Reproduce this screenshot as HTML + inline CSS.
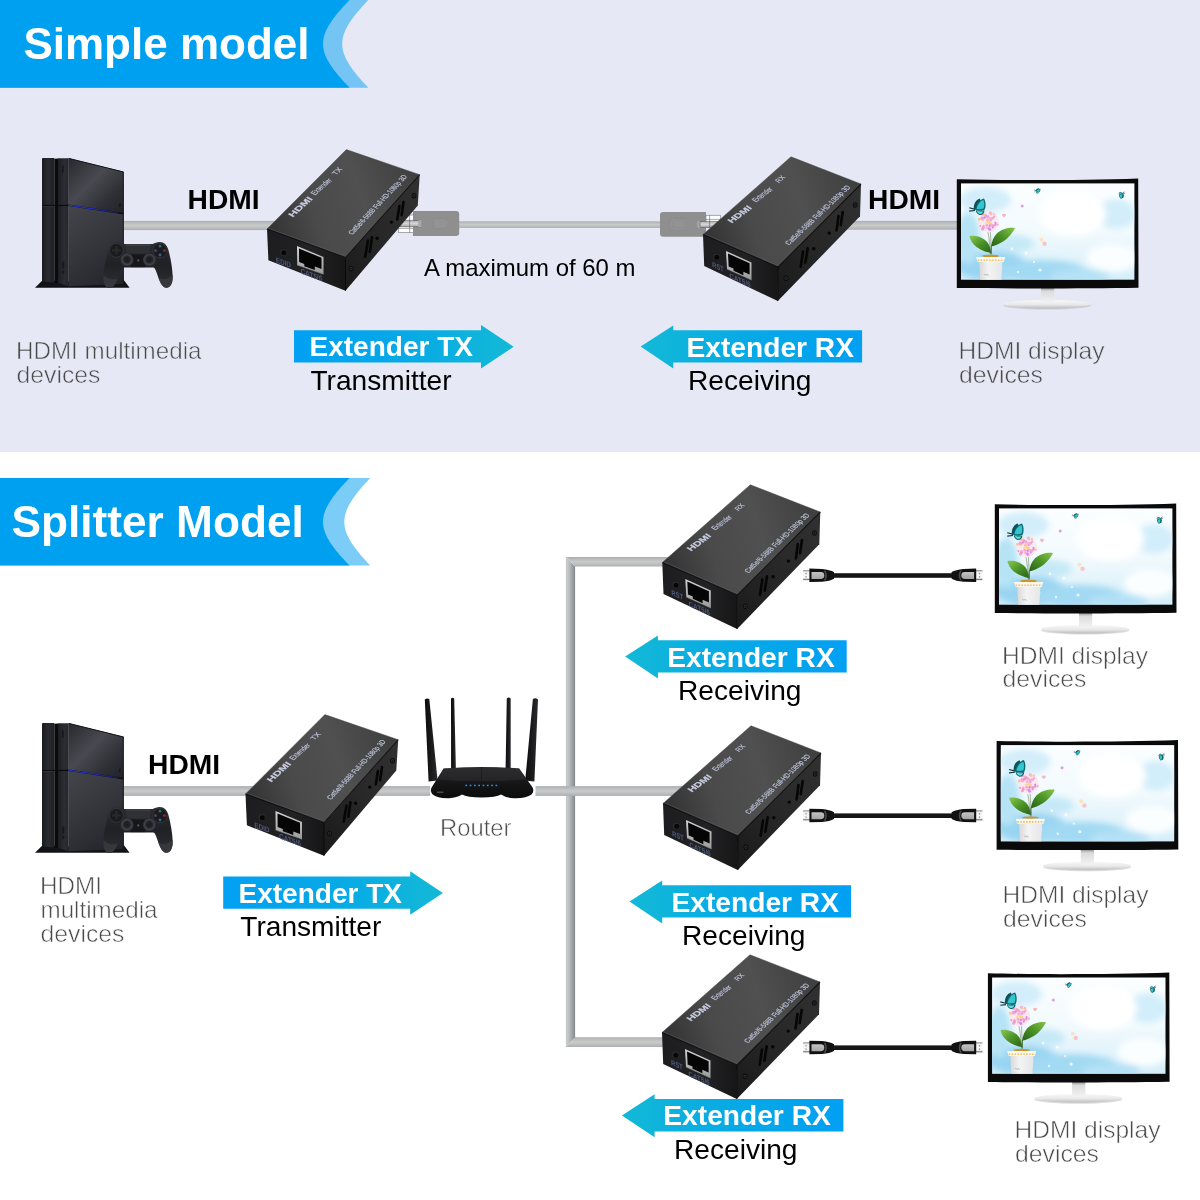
<!DOCTYPE html>
<html lang="en">
<head>
<meta charset="utf-8">
<title>HDMI Extender connection diagram</title>
<style>
html,body{margin:0;padding:0;background:#ffffff;}
body{width:1200px;height:1200px;overflow:hidden;position:relative;}
svg{will-change:transform;position:absolute;left:0;top:0;display:block;font-family:"Liberation Sans",sans-serif;}
svg text{white-space:pre;}
</style>
</head>
<body>
<svg width="1200" height="1200" viewBox="0 0 1200 1200">
<defs>
<linearGradient id="cabH" x1="0" y1="0" x2="0" y2="1">
 <stop offset="0" stop-color="#a9adb2"/><stop offset="0.2" stop-color="#b9bcbd"/>
 <stop offset="0.5" stop-color="#cacbc9"/><stop offset="0.8" stop-color="#b9bcbd"/>
 <stop offset="1" stop-color="#a9adb2"/>
</linearGradient>
<linearGradient id="cabV" x1="0" y1="0" x2="1" y2="0">
 <stop offset="0" stop-color="#c4c5c5"/><stop offset="0.12" stop-color="#cacaca"/>
 <stop offset="0.4" stop-color="#b8babb"/><stop offset="0.7" stop-color="#9ca1a4"/>
 <stop offset="1" stop-color="#84888c"/>
</linearGradient>
<linearGradient id="arrR" x1="0" y1="0" x2="1" y2="0">
 <stop offset="0" stop-color="#02a0f3"/><stop offset="0.5" stop-color="#07a9e6"/><stop offset="1" stop-color="#13b9d6"/>
</linearGradient>
<linearGradient id="arrL" x1="0" y1="0" x2="1" y2="0">
 <stop offset="0" stop-color="#13b9d6"/><stop offset="0.5" stop-color="#07a9e6"/><stop offset="1" stop-color="#02a0f3"/>
</linearGradient>

<linearGradient id="bxTopT" gradientUnits="userSpaceOnUse" x1="267" y1="229" x2="419" y2="175">
 <stop offset="0" stop-color="#323233"/><stop offset="0.3" stop-color="#4a4a4b"/>
 <stop offset="0.62" stop-color="#505051"/><stop offset="1" stop-color="#3e3e3f"/>
</linearGradient>
<linearGradient id="bxTopR" gradientUnits="userSpaceOnUse" x1="703" y1="234" x2="861" y2="184">
 <stop offset="0" stop-color="#323233"/><stop offset="0.3" stop-color="#4a4a4b"/>
 <stop offset="0.62" stop-color="#505051"/><stop offset="1" stop-color="#3e3e3f"/>
</linearGradient>
<linearGradient id="bxFront" x1="0" y1="0" x2="1" y2="0">
 <stop offset="0" stop-color="#1d1d1f"/><stop offset="0.6" stop-color="#222224"/><stop offset="1" stop-color="#161617"/>
</linearGradient>
<linearGradient id="bxSide" x1="0" y1="1" x2="1" y2="0">
 <stop offset="0" stop-color="#1a1a1b"/><stop offset="0.5" stop-color="#282829"/><stop offset="1" stop-color="#313132"/>
</linearGradient>
<linearGradient id="rjFrame" x1="0" y1="0" x2="0" y2="1">
 <stop offset="0" stop-color="#d4d4d4"/><stop offset="1" stop-color="#9a9a9a"/>
</linearGradient>

<linearGradient id="psFront" x1="0" y1="0" x2="1" y2="0">
 <stop offset="0" stop-color="#1a1b1f"/><stop offset="0.5" stop-color="#2a2b30"/><stop offset="1" stop-color="#1e1f23"/>
</linearGradient>
<linearGradient id="psFront2" x1="0" y1="0" x2="1" y2="0">
 <stop offset="0" stop-color="#1d1e22"/><stop offset="0.6" stop-color="#2c2d33"/><stop offset="1" stop-color="#25262b"/>
</linearGradient>
<linearGradient id="psUp" gradientUnits="userSpaceOnUse" x1="70" y1="160" x2="122" y2="212">
 <stop offset="0" stop-color="#2a2b30"/><stop offset="0.42" stop-color="#494a51"/><stop offset="0.75" stop-color="#2f3035"/><stop offset="1" stop-color="#232428"/>
</linearGradient>
<linearGradient id="psLow" gradientUnits="userSpaceOnUse" x1="70" y1="207" x2="120" y2="286">
 <stop offset="0" stop-color="#44454b"/><stop offset="0.35" stop-color="#393a40"/><stop offset="0.75" stop-color="#2c2d32"/><stop offset="1" stop-color="#222327"/>
</linearGradient>
<linearGradient id="psBlue" x1="0" y1="0" x2="1" y2="0">
 <stop offset="0" stop-color="#2838d8"/><stop offset="0.5" stop-color="#2030c8"/><stop offset="1" stop-color="#1a2070" stop-opacity="0.7"/>
</linearGradient>
<linearGradient id="padBody" x1="0" y1="0" x2="0" y2="1">
 <stop offset="0" stop-color="#2b2c30"/><stop offset="0.5" stop-color="#202125"/><stop offset="1" stop-color="#2e2f33"/>
</linearGradient>
<radialGradient id="padStick" cx="0.5" cy="0.45" r="0.55">
 <stop offset="0" stop-color="#1a1a1d"/><stop offset="0.42" stop-color="#232428"/><stop offset="0.68" stop-color="#424348"/><stop offset="0.9" stop-color="#2a2b2f"/><stop offset="1" stop-color="#1a1a1d"/>
</radialGradient>

<linearGradient id="mnSky" x1="0" y1="0" x2="0" y2="1">
 <stop offset="0" stop-color="#fbfeff"/><stop offset="0.5" stop-color="#f2fafd"/><stop offset="1" stop-color="#d4eef9"/>
</linearGradient>
<filter id="mnBlur" x="-10%" y="-10%" width="120%" height="120%"><feGaussianBlur stdDeviation="3.2"/></filter>
<radialGradient id="mnWhite" cx="0.5" cy="0.5" r="0.5">
 <stop offset="0" stop-color="#ffffff"/><stop offset="0.55" stop-color="#ffffff" stop-opacity="0.95"/><stop offset="1" stop-color="#ffffff" stop-opacity="0"/>
</radialGradient>
<radialGradient id="mnBlue" cx="0.5" cy="0.5" r="0.5">
 <stop offset="0" stop-color="#9ed8f2"/><stop offset="0.5" stop-color="#a8dcf4" stop-opacity="0.8"/><stop offset="1" stop-color="#b4e2f6" stop-opacity="0"/>
</radialGradient>
<linearGradient id="mnNeck" x1="0" y1="0" x2="0" y2="1">
 <stop offset="0" stop-color="#8c8c8c"/><stop offset="0.25" stop-color="#dcdcdc"/><stop offset="1" stop-color="#f2f2f2"/>
</linearGradient>
<linearGradient id="mnBase" x1="0" y1="0" x2="0" y2="1">
 <stop offset="0" stop-color="#f8f8f8"/><stop offset="0.55" stop-color="#e8e8e8"/><stop offset="1" stop-color="#bcbcbc"/>
</linearGradient>
<linearGradient id="mnLeafL" x1="0" y1="0" x2="1" y2="1">
 <stop offset="0" stop-color="#8cc850"/><stop offset="0.5" stop-color="#4c9428"/><stop offset="1" stop-color="#2c6418"/>
</linearGradient>
<linearGradient id="mnLeafR" x1="1" y1="0" x2="0" y2="1">
 <stop offset="0" stop-color="#86c44c"/><stop offset="0.5" stop-color="#4a9226"/><stop offset="1" stop-color="#2a6016"/>
</linearGradient>
<linearGradient id="mnPot" x1="0" y1="0" x2="1" y2="0">
 <stop offset="0" stop-color="#d8d8d8"/><stop offset="0.4" stop-color="#f4f4f4"/><stop offset="1" stop-color="#e4e6e8"/>
</linearGradient>
<clipPath id="mnClip"><rect x="961" y="183.4" width="173.4" height="96.3"/></clipPath>

<linearGradient id="rtBody" x1="0" y1="0" x2="0" y2="1">
 <stop offset="0" stop-color="#2a2a2c"/><stop offset="0.45" stop-color="#171718"/><stop offset="1" stop-color="#0c0c0d"/>
</linearGradient>
<linearGradient id="rtAnt" x1="0" y1="0" x2="1" y2="0">
 <stop offset="0" stop-color="#0c0c0d"/><stop offset="0.55" stop-color="#1b1b1d"/><stop offset="1" stop-color="#2c2c2f"/>
</linearGradient>

<linearGradient id="hdTip" x1="0" y1="0" x2="0" y2="1">
 <stop offset="0" stop-color="#7c7c7c"/><stop offset="0.18" stop-color="#f2f2f2"/><stop offset="0.8" stop-color="#fafafa"/><stop offset="1" stop-color="#4c4c4c"/>
</linearGradient>
<linearGradient id="hdIns" x1="0" y1="0" x2="0" y2="1">
 <stop offset="0" stop-color="#c4c4c4"/><stop offset="1" stop-color="#a4a4a4"/>
</linearGradient>
<linearGradient id="rjBand" x1="0" y1="0" x2="0" y2="1">
 <stop offset="0" stop-color="#b0b0b0"/><stop offset="0.5" stop-color="#d6d6d6"/><stop offset="1" stop-color="#a8a8a8"/>
</linearGradient>
</defs>
<rect x="0" y="0" width="1200" height="1200" fill="#ffffff"/>
<rect x="0" y="0" width="1200" height="452" fill="#e6e8f5"/>
<path d="M0,0 L368.3,0 366.56,1.83 364.86,3.65 363.18,5.48 361.54,7.31 359.94,9.14 358.37,10.96 356.85,12.79 355.38,14.62 353.96,16.44 352.6,18.27 351.29,20.1 350.06,21.93 348.89,23.75 347.8,25.58 346.79,27.41 345.86,29.23 345.03,31.06 344.3,32.89 343.67,34.71 343.15,36.54 342.73,38.37 342.44,40.2 342.26,42.02 342.2,43.85 342.26,45.68 342.44,47.5 342.73,49.33 343.15,51.16 343.67,52.99 344.3,54.81 345.03,56.64 345.86,58.47 346.79,60.29 347.8,62.12 348.89,63.95 350.06,65.78 351.29,67.6 352.6,69.43 353.96,71.26 355.38,73.08 356.85,74.91 358.37,76.74 359.94,78.56 361.54,80.39 363.18,82.22 364.86,84.05 366.56,85.87 368.3,87.7 L0,87.7 Z" fill="#74c4f4"/>
<path d="M0,0 L349.6,0 347.83,1.83 346.09,3.65 344.38,5.48 342.71,7.31 341.08,9.14 339.48,10.96 337.93,12.79 336.43,14.62 334.99,16.44 333.6,18.27 332.27,20.1 331.01,21.93 329.82,23.75 328.7,25.58 327.68,27.41 326.73,29.23 325.89,31.06 325.14,32.89 324.5,34.71 323.96,36.54 323.55,38.37 323.24,40.2 323.06,42.02 323,43.85 323.06,45.68 323.24,47.5 323.55,49.33 323.96,51.16 324.5,52.99 325.14,54.81 325.89,56.64 326.73,58.47 327.68,60.29 328.7,62.12 329.82,63.95 331.01,65.78 332.27,67.6 333.6,69.43 334.99,71.26 336.43,73.08 337.93,74.91 339.48,76.74 341.08,78.56 342.71,80.39 344.38,82.22 346.09,84.05 347.83,85.87 349.6,87.7 L0,87.7 Z" fill="#00a0f0"/>
<text x="23.4" y="59.2" font-size="44" font-weight="bold" fill="#ffffff">Simple model</text>
<path d="M0,478 L370.3,478 368.57,479.82 366.87,481.65 365.2,483.48 363.57,485.3 361.97,487.12 360.41,488.95 358.9,490.77 357.43,492.6 356.02,494.43 354.66,496.25 353.36,498.07 352.13,499.9 350.96,501.73 349.88,503.55 348.87,505.38 347.95,507.2 347.12,509.02 346.39,510.85 345.76,512.67 345.24,514.5 344.83,516.33 344.54,518.15 344.36,519.98 344.3,521.8 344.36,523.62 344.54,525.45 344.83,527.27 345.24,529.1 345.76,530.92 346.39,532.75 347.12,534.58 347.95,536.4 348.87,538.23 349.88,540.05 350.96,541.88 352.13,543.7 353.36,545.52 354.66,547.35 356.02,549.18 357.43,551 358.9,552.83 360.41,554.65 361.97,556.48 363.57,558.3 365.2,560.12 366.87,561.95 368.57,563.77 370.3,565.6 L0,565.6 Z" fill="#7cccf8"/>
<path d="M0,478 L349.6,478 347.83,479.82 346.09,481.65 344.38,483.48 342.71,485.3 341.08,487.12 339.48,488.95 337.93,490.77 336.43,492.6 334.99,494.43 333.6,496.25 332.27,498.07 331.01,499.9 329.82,501.73 328.7,503.55 327.68,505.38 326.73,507.2 325.89,509.02 325.14,510.85 324.5,512.67 323.96,514.5 323.55,516.33 323.24,518.15 323.06,519.98 323,521.8 323.06,523.62 323.24,525.45 323.55,527.27 323.96,529.1 324.5,530.92 325.14,532.75 325.89,534.58 326.73,536.4 327.68,538.23 328.7,540.05 329.82,541.88 331.01,543.7 332.27,545.52 333.6,547.35 334.99,549.18 336.43,551 337.93,552.83 339.48,554.65 341.08,556.48 342.71,558.3 344.38,560.12 346.09,561.95 347.83,563.77 349.6,565.6 L0,565.6 Z" fill="#00a0f0"/>
<text x="11.6" y="536.7" font-size="44.2" font-weight="bold" fill="#ffffff">Splitter Model</text>
<polygon points="565.9,557.1 575.1,566.6 575.1,1037.2 565.9,1047" fill="url(#cabV)"/>
<polygon points="565.9,557.1 700,557.1 700,566.6 575.1,566.6" fill="url(#cabH)"/>
<polygon points="575.1,1037.2 700,1037.2 700,1047 565.9,1047" fill="url(#cabH)"/>
<rect x="118" y="220.9" width="182" height="9.2" fill="url(#cabH)"/>
<rect x="455" y="221.3" width="209" height="6.6" fill="url(#cabH)"/>
<rect x="820" y="220.9" width="140" height="8.8" fill="url(#cabH)"/>
<rect x="118" y="786.1" width="162" height="9.8" fill="url(#cabH)"/>
<rect x="370" y="786.1" width="60.2" height="9.8" fill="url(#cabH)"/>
<rect x="535.5" y="786.1" width="164.5" height="9.8" fill="url(#cabH)"/>
<rect x="398.3" y="215" width="15" height="17.7" fill="#ffffff" stroke="#5a5a5a" stroke-width="0.5"/>
<line x1="409.6" y1="215" x2="409.6" y2="232.7" stroke="#4a4a4a" stroke-width="0.5"/>
<line x1="398.3" y1="228.4" x2="413" y2="228.4" stroke="#5a5a5a" stroke-width="0.5"/>
<path d="M413,211 L456,211 Q459.2,211 459.2,214.2 L459.2,232.8 Q459.2,236 456,236 L413,236 Z" fill="#8f8f8f"/>
<rect x="399" y="220.4" width="22.4" height="6.3" rx="0.8" fill="url(#rjBand)" stroke="#555555" stroke-width="0.6"/>
<line x1="409.6" y1="220.4" x2="409.6" y2="226.7" stroke="#444444" stroke-width="0.5"/>
<rect x="418.2" y="220.2" width="3.4" height="6.8" fill="#a9a9a9"/>
<path d="M433.6,218.6 L443,218.6 Q448.4,218.6 448.4,223.6 Q448.4,228.6 443,228.6 L433.6,228.6 Z" fill="#939393" stroke="#8a8a8a" stroke-width="0.7"/>
<rect x="706" y="215.2" width="14.7" height="12.2" fill="#ffffff" stroke="#5a5a5a" stroke-width="0.5"/>
<line x1="709.6" y1="215.2" x2="709.6" y2="227.4" stroke="#4a4a4a" stroke-width="0.5"/>
<line x1="706" y1="219.4" x2="720.7" y2="219.4" stroke="#5a5a5a" stroke-width="0.5"/>
<path d="M706,212 L663.2,212 Q660,212 660,215.2 L660,233.5 Q660,236.7 663.2,236.7 L706,236.7 Z" fill="#8f8f8f"/>
<rect x="697.3" y="221.3" width="3.6" height="6.4" rx="1" fill="#a9a9a9"/>
<rect x="700" y="221.4" width="18" height="6" rx="0.8" fill="url(#rjBand)" stroke="#555555" stroke-width="0.6"/>
<line x1="709.6" y1="221.4" x2="709.6" y2="227.4" stroke="#444444" stroke-width="0.5"/>
<path d="M686,218.4 L675,218.4 Q669.4,218.4 669.4,224.3 Q669.4,230.2 675,230.2 L686,230.2 Z" fill="#939393" stroke="#8a8a8a" stroke-width="0.7"/>
<path d="M683.6,220.8 L676,220.8 Q672,220.8 672,224.3 Q672,227.8 676,227.8 L683.6,227.8 Z" fill="none" stroke="#8a8a8a" stroke-width="0.6"/>
<g><polygon points="35,287.8 42.6,280.2 69,281.5 123.4,279.6 129.6,287.8" fill="#121316"/>
<polygon points="42,158.8 42.6,158.1 54.3,158.1 54.3,282.6 42,281.6" fill="url(#psFront)"/>
<polygon points="54.3,158.8 58,158.6 58,283 54.3,282.6" fill="#0a0a0c"/>
<polygon points="58,158.2 68.8,158.2 68.8,286.3 58,283" fill="url(#psFront2)"/>
<polygon points="68.8,158.2 123.6,171.8 123.6,213.6 68.8,205.3" fill="url(#psUp)"/>
<polygon points="68.8,205.3 123.6,213.6 123.6,284 68.8,286.3" fill="url(#psLow)"/>
<line x1="42" y1="205.6" x2="68.8" y2="205.3" stroke="#0c0c0e" stroke-width="1.2"/>
<line x1="42" y1="206.6" x2="54.6" y2="206.5" stroke="#4a4b52" stroke-width="0.6" opacity="0.7"/>
<line x1="68.8" y1="205.3" x2="123.6" y2="213.6" stroke="#111118" stroke-width="1.6"/>
<line x1="68.8" y1="205.2" x2="118" y2="212.6" stroke="url(#psBlue)" stroke-width="1.1"/>
<line x1="68.8" y1="158.4" x2="123.6" y2="172" stroke="#15161a" stroke-width="1"/>
<line x1="123.3" y1="172" x2="123.3" y2="284" stroke="#16171a" stroke-width="1"/>
<rect x="62" y="165.5" width="1.6" height="7" fill="#111216" opacity="0.8"/>
<path d="M62,262 l2.4,-1 v7 l-2.4,1 z M62,271 l2.4,-1 v3.5 l-2.4,1 z" fill="#15161a" opacity="0.8"/>
<path d="M118,207.5 l2.6,-1.6 v-3 l-1.2,0.5 v2 z" fill="#101114" opacity="0.9"/>
<path d="M108.6,249.5 C109.5,245 112.5,242.3 116.5,242.2 C119.5,242.1 121.8,243 123.5,244 L152.8,244 C154.6,243 157,242 159.8,242 C164,242 167,245 168.3,249.6 C170.6,258 172.4,268 172.7,276.5 C172.9,282.5 171,287.4 166.8,287.8 C163.4,288 161.4,285 159.6,280.8 C158,277 156.6,271.5 154.8,268.4 C153.8,267.6 152.6,267.6 151,267.6 L125.4,267.6 C123.6,267.6 122.6,267.8 121.6,269 C119.6,272 118.2,277.4 116.4,281.4 C114.6,285.4 112.4,288 108.8,287.8 C104.6,287.5 102.9,282.5 103.2,276.5 C103.6,268 106,258 108.6,249.5 Z" fill="url(#padBody)"/>
<path d="M103.4,275 C103,282.5 104.8,287.4 108.8,287.7 C112.4,287.9 114.6,285.4 116.4,281.4 L117.6,278.4 C113,280.5 108,279.5 103.4,275 Z" fill="#3a3b3f" opacity="0.8"/>
<path d="M172.6,275 C173,282.5 171,287.4 166.9,287.7 C163.4,287.9 161.4,285 159.6,280.8 L158.4,277.8 C163,280.2 168,279.3 172.6,275 Z" fill="#3a3b3f" opacity="0.8"/>
<path d="M125.6,244.2 L150.6,244.2 L149.8,253.6 L126.4,253.6 Z" fill="#2f3034"/>
<path d="M125.6,244.2 L150.6,244.2 L150.4,246 L125.8,246 Z" fill="#404146" opacity="0.8"/>
<rect x="131" y="254.5" width="14" height="12.6" fill="#17171a"/>
<circle cx="116.4" cy="250.4" r="6.9" fill="#1b1b1e"/>
<circle cx="116.4" cy="250.4" r="6.9" fill="none" stroke="#3b3c40" stroke-width="0.7"/>
<path d="M115.3,246 h2.2 v3.2 h3.2 v2.2 h-3.2 v3.2 h-2.2 v-3.2 h-3.2 v-2.2 h3.2 z" fill="#28292d"/>
<circle cx="160" cy="250.6" r="7.2" fill="#1b1b1e"/>
<circle cx="160" cy="250.6" r="7.2" fill="none" stroke="#3b3c40" stroke-width="0.7"/>
<circle cx="160" cy="246.2" r="1.4" fill="#2a6e6c"/>
<circle cx="164.5" cy="250.6" r="1.4" fill="#7a3040"/>
<circle cx="155.5" cy="250.6" r="1.4" fill="#5e4068"/>
<circle cx="160" cy="255" r="1.4" fill="#34609a"/>
<circle cx="127" cy="260.2" r="6.6" fill="url(#padStick)"/>
<circle cx="149.4" cy="260.2" r="6.6" fill="url(#padStick)"/>
<circle cx="138.3" cy="260.4" r="1.1" fill="#5a5b60"/></g>
<g transform="translate(0 565)"><polygon points="35,287.8 42.6,280.2 69,281.5 123.4,279.6 129.6,287.8" fill="#121316"/>
<polygon points="42,158.8 42.6,158.1 54.3,158.1 54.3,282.6 42,281.6" fill="url(#psFront)"/>
<polygon points="54.3,158.8 58,158.6 58,283 54.3,282.6" fill="#0a0a0c"/>
<polygon points="58,158.2 68.8,158.2 68.8,286.3 58,283" fill="url(#psFront2)"/>
<polygon points="68.8,158.2 123.6,171.8 123.6,213.6 68.8,205.3" fill="url(#psUp)"/>
<polygon points="68.8,205.3 123.6,213.6 123.6,284 68.8,286.3" fill="url(#psLow)"/>
<line x1="42" y1="205.6" x2="68.8" y2="205.3" stroke="#0c0c0e" stroke-width="1.2"/>
<line x1="42" y1="206.6" x2="54.6" y2="206.5" stroke="#4a4b52" stroke-width="0.6" opacity="0.7"/>
<line x1="68.8" y1="205.3" x2="123.6" y2="213.6" stroke="#111118" stroke-width="1.6"/>
<line x1="68.8" y1="205.2" x2="118" y2="212.6" stroke="url(#psBlue)" stroke-width="1.1"/>
<line x1="68.8" y1="158.4" x2="123.6" y2="172" stroke="#15161a" stroke-width="1"/>
<line x1="123.3" y1="172" x2="123.3" y2="284" stroke="#16171a" stroke-width="1"/>
<rect x="62" y="165.5" width="1.6" height="7" fill="#111216" opacity="0.8"/>
<path d="M62,262 l2.4,-1 v7 l-2.4,1 z M62,271 l2.4,-1 v3.5 l-2.4,1 z" fill="#15161a" opacity="0.8"/>
<path d="M118,207.5 l2.6,-1.6 v-3 l-1.2,0.5 v2 z" fill="#101114" opacity="0.9"/>
<path d="M108.6,249.5 C109.5,245 112.5,242.3 116.5,242.2 C119.5,242.1 121.8,243 123.5,244 L152.8,244 C154.6,243 157,242 159.8,242 C164,242 167,245 168.3,249.6 C170.6,258 172.4,268 172.7,276.5 C172.9,282.5 171,287.4 166.8,287.8 C163.4,288 161.4,285 159.6,280.8 C158,277 156.6,271.5 154.8,268.4 C153.8,267.6 152.6,267.6 151,267.6 L125.4,267.6 C123.6,267.6 122.6,267.8 121.6,269 C119.6,272 118.2,277.4 116.4,281.4 C114.6,285.4 112.4,288 108.8,287.8 C104.6,287.5 102.9,282.5 103.2,276.5 C103.6,268 106,258 108.6,249.5 Z" fill="url(#padBody)"/>
<path d="M103.4,275 C103,282.5 104.8,287.4 108.8,287.7 C112.4,287.9 114.6,285.4 116.4,281.4 L117.6,278.4 C113,280.5 108,279.5 103.4,275 Z" fill="#3a3b3f" opacity="0.8"/>
<path d="M172.6,275 C173,282.5 171,287.4 166.9,287.7 C163.4,287.9 161.4,285 159.6,280.8 L158.4,277.8 C163,280.2 168,279.3 172.6,275 Z" fill="#3a3b3f" opacity="0.8"/>
<path d="M125.6,244.2 L150.6,244.2 L149.8,253.6 L126.4,253.6 Z" fill="#2f3034"/>
<path d="M125.6,244.2 L150.6,244.2 L150.4,246 L125.8,246 Z" fill="#404146" opacity="0.8"/>
<rect x="131" y="254.5" width="14" height="12.6" fill="#17171a"/>
<circle cx="116.4" cy="250.4" r="6.9" fill="#1b1b1e"/>
<circle cx="116.4" cy="250.4" r="6.9" fill="none" stroke="#3b3c40" stroke-width="0.7"/>
<path d="M115.3,246 h2.2 v3.2 h3.2 v2.2 h-3.2 v3.2 h-2.2 v-3.2 h-3.2 v-2.2 h3.2 z" fill="#28292d"/>
<circle cx="160" cy="250.6" r="7.2" fill="#1b1b1e"/>
<circle cx="160" cy="250.6" r="7.2" fill="none" stroke="#3b3c40" stroke-width="0.7"/>
<circle cx="160" cy="246.2" r="1.4" fill="#2a6e6c"/>
<circle cx="164.5" cy="250.6" r="1.4" fill="#7a3040"/>
<circle cx="155.5" cy="250.6" r="1.4" fill="#5e4068"/>
<circle cx="160" cy="255" r="1.4" fill="#34609a"/>
<circle cx="127" cy="260.2" r="6.6" fill="url(#padStick)"/>
<circle cx="149.4" cy="260.2" r="6.6" fill="url(#padStick)"/>
<circle cx="138.3" cy="260.4" r="1.1" fill="#5a5b60"/></g>
<path d="M424.8,699.4 Q426.8,697.6 429.3,699 L437.6,780.5 L428.6,781.5 Z" fill="url(#rtAnt)"/>
<path d="M451,698.6 Q452.6,697 454.2,698.6 L455.9,769 L451.1,769 Z" fill="url(#rtAnt)"/>
<path d="M506.8,698.4 Q508.8,696.8 510.7,698.4 L510.7,769 L505.6,769 Z" fill="url(#rtAnt)"/>
<path d="M532.9,699 Q535.6,697.4 538,699.4 L534.4,781.5 L525.2,780.5 Z" fill="url(#rtAnt)"/>
<path d="M443.6,768.6 Q481.5,765.6 519.2,768.6 L532.6,787.6 Q534.4,791 531.8,794.2 Q526,798.6 514,798.2 Q506,798 501,794.6 Q496,797.6 481.6,797.6 Q467,797.6 462,794.6 Q457,798 449,798.2 Q437.6,798.6 432.4,794.2 Q429.8,791 431.6,787.6 Z" fill="url(#rtBody)"/>
<path d="M443.6,768.6 Q481.5,765.6 519.2,768.6 L526.6,779.2 Q481.5,783.4 437.4,779.4 Z" fill="#303033" opacity="0.55"/>
<path d="M481.6,766.9 L481.6,781.4" stroke="#0e0e0f" stroke-width="0.6" opacity="0.7"/>
<rect x="465.4" y="784.7" width="1.7" height="1.5" fill="#2f8df2"/>
<rect x="469.7" y="784.7" width="1.7" height="1.5" fill="#2f8df2"/>
<rect x="474" y="784.7" width="1.7" height="1.5" fill="#2f8df2"/>
<rect x="478.3" y="784.7" width="1.7" height="1.5" fill="#2f8df2"/>
<rect x="482.6" y="784.7" width="1.7" height="1.5" fill="#2f8df2"/>
<rect x="486.9" y="784.7" width="1.7" height="1.5" fill="#2f8df2"/>
<rect x="491.2" y="784.7" width="1.7" height="1.5" fill="#2f8df2"/>
<rect x="495.5" y="784.7" width="1.7" height="1.5" fill="#2f8df2"/>
<rect x="436.8" y="791.6" width="6.6" height="1.2" fill="#6a6a6e" opacity="0.8"/>
<polygon points="294,330.2 481,330.2 481,325 513.7,346.7 481,368.6 481,362.6 294,362.6" fill="url(#arrR)"/>
<text x="309.5" y="356.4" font-size="27.6" font-weight="bold" fill="#ffffff" textLength="163.5" lengthAdjust="spacingAndGlyphs">Extender TX</text>
<text x="310.5" y="390" font-size="27.2" fill="#000000" textLength="141" lengthAdjust="spacingAndGlyphs">Transmitter</text>
<polygon points="223.2,876.4 410.2,876.4 410.2,871.2 442.9,892.9 410.2,914.8 410.2,908.8 223.2,908.8" fill="url(#arrR)"/>
<text x="238.5" y="902.6" font-size="27.6" font-weight="bold" fill="#ffffff" textLength="163.5" lengthAdjust="spacingAndGlyphs">Extender TX</text>
<text x="240.3" y="936.2" font-size="27.2" fill="#000000" textLength="141" lengthAdjust="spacingAndGlyphs">Transmitter</text>
<polygon points="640.6,346.6 673.3,325.4 673.3,330.2 862.1,330.2 862.1,362.6 673.3,362.6 673.3,368.4" fill="url(#arrL)"/>
<text x="686.5" y="356.5" font-size="27.6" font-weight="bold" fill="#ffffff" textLength="167.5" lengthAdjust="spacingAndGlyphs">Extender RX</text>
<text x="688" y="389.7" font-size="27.2" fill="#000000" textLength="123.5" lengthAdjust="spacingAndGlyphs">Receiving</text>
<polygon points="625.2,656.6 657.9,635.4 657.9,640.2 846.7,640.2 846.7,672.6 657.9,672.6 657.9,678.4" fill="url(#arrL)"/>
<text x="667.2" y="666.5" font-size="27.6" font-weight="bold" fill="#ffffff" textLength="167.5" lengthAdjust="spacingAndGlyphs">Extender RX</text>
<text x="678" y="699.7" font-size="27.2" fill="#000000" textLength="123.5" lengthAdjust="spacingAndGlyphs">Receiving</text>
<polygon points="629.5,901.6 662.2,880.4 662.2,885.2 851,885.2 851,917.6 662.2,917.6 662.2,923.4" fill="url(#arrL)"/>
<text x="671.5" y="911.5" font-size="27.6" font-weight="bold" fill="#ffffff" textLength="167.5" lengthAdjust="spacingAndGlyphs">Extender RX</text>
<text x="682" y="945.2" font-size="27.2" fill="#000000" textLength="123.5" lengthAdjust="spacingAndGlyphs">Receiving</text>
<polygon points="621.9,1115.5 654.6,1094.3 654.6,1099.1 843.4,1099.1 843.4,1131.5 654.6,1131.5 654.6,1137.3" fill="url(#arrL)"/>
<text x="663.3" y="1125.4" font-size="27.6" font-weight="bold" fill="#ffffff" textLength="167.5" lengthAdjust="spacingAndGlyphs">Extender RX</text>
<text x="674" y="1159.1" font-size="27.2" fill="#000000" textLength="123.5" lengthAdjust="spacingAndGlyphs">Receiving</text>
<g><ellipse cx="1047.2" cy="305.4" rx="44" ry="4.2" fill="#9a9ca4" opacity="0.35"/>
<ellipse cx="1047.2" cy="304.2" rx="44.2" ry="4.3" fill="url(#mnBase)"/>
<rect x="1041" y="287.5" width="13.2" height="15" fill="url(#mnNeck)"/>
<path d="M956.8,179.2 C1010,180.6 1085,180.2 1138.2,178.4 L1138.5,287.7 C1085,288.6 1010,288.6 956.8,288 Z" fill="#0a0a0b"/>
<rect x="961" y="183.4" width="173.4" height="96.3" fill="url(#mnSky)"/>
<g clip-path="url(#mnClip)">
<g filter="url(#mnBlur)">
<ellipse cx="992" cy="266" rx="36" ry="15" fill="#98d4f1"/>
<ellipse cx="1040" cy="271" rx="46" ry="11" fill="#a2d9f3"/>
<ellipse cx="1080" cy="276" rx="30" ry="7" fill="#b4e1f6"/>
<ellipse cx="968" cy="238" rx="12" ry="26" fill="#b6e3f6"/>
<ellipse cx="985" cy="200" rx="26" ry="13" fill="#d3eefa"/>
<ellipse cx="1012" cy="244" rx="22" ry="9" fill="#c6e9f8"/>
<ellipse cx="1116" cy="214" rx="20" ry="15" fill="#d2eefa"/>
<ellipse cx="1072" cy="214" rx="34" ry="22" fill="#ffffff"/>
<ellipse cx="1112" cy="258" rx="26" ry="14" fill="#fbfeff"/>
</g>
<circle cx="997" cy="259" r="1.6" fill="#ffffff" opacity="0.8"/>
<circle cx="1012" cy="249" r="1.4" fill="#ffffff" opacity="0.8"/>
<circle cx="1026" cy="253" r="1.5" fill="#ffffff" opacity="0.8"/>
<circle cx="1001" cy="268" r="1.3" fill="#ffffff" opacity="0.8"/>
<circle cx="1040" cy="270" r="1.6" fill="#ffffff" opacity="0.8"/>
<circle cx="1018" cy="272" r="1.2" fill="#ffffff" opacity="0.8"/>
<circle cx="985" cy="245" r="1.2" fill="#ffffff" opacity="0.8"/>
<circle cx="1034" cy="262" r="1.1" fill="#ffffff" opacity="0.8"/>
<path d="M979.2,261.6 L1002.4,261.6 L1001.4,280 L980.2,280 Z" fill="url(#mnPot)"/>
<path d="M984,274 l2,1.2 l1.4,-1 l1.2,1.6" stroke="#9a9a9a" stroke-width="0.6" fill="none"/>
<ellipse cx="990.6" cy="256" rx="8.6" ry="1.3" fill="#c8962c"/>
<path d="M976,257 L1005.2,257 L1003.8,262 L977.6,262 Z" fill="#fbf6ee"/>
<path d="M977.6,260.2 L1004,260.2" stroke="#f4c060" stroke-width="1.6" stroke-dasharray="1.6 1.3"/>
<path d="M990.4,255 C990,248 989.4,240 988,232 M991.2,255 C991.2,246 990.6,238 990.4,232" stroke="#8a9a78" stroke-width="0.7" fill="none"/>
<path d="M969.4,236.2 C975,234.6 984,237.4 988,243 C990,246.4 990.8,250 990.6,253 C984,251.8 977,248.6 973,243.6 C971,241 970,238.6 969.4,236.2 Z" fill="url(#mnLeafL)"/>
<path d="M1015,228 C1010,227.2 1001,229 996.4,234 C993.4,237.4 991.6,242 991,246.6 C997,245.4 1004,242 1009,236.6 C1011.6,233.8 1013.6,231 1015,228 Z" fill="url(#mnLeafR)"/>
<path d="M990.4,253.4 L990.8,246 L991.6,246.2 L991.6,254 Z" fill="#2e5e1a"/>
<circle cx="988.6" cy="222" r="10.4" fill="#fbe4ee" opacity="0.75"/>
<circle cx="986.83" cy="225.37" r="1.39" fill="#f6a4cc"/>
<circle cx="995.31" cy="225.12" r="1.22" fill="#f7b6d6"/>
<circle cx="995.39" cy="224.46" r="1.02" fill="#d98ae6"/>
<circle cx="986.14" cy="223.04" r="1.05" fill="#f9d486"/>
<circle cx="980.35" cy="226.02" r="1.07" fill="#f49ac2"/>
<circle cx="989.95" cy="229.57" r="1.57" fill="#e4a0ee"/>
<circle cx="982.92" cy="219.16" r="1.59" fill="#fbc4a0"/>
<circle cx="997.65" cy="224.59" r="1.17" fill="#f8b0d0"/>
<circle cx="990.76" cy="224.62" r="1.19" fill="#f6a4cc"/>
<circle cx="990.35" cy="218.23" r="1.35" fill="#f7b6d6"/>
<circle cx="984.6" cy="217.47" r="1.33" fill="#d98ae6"/>
<circle cx="990.9" cy="222.91" r="1.12" fill="#f9d486"/>
<circle cx="985.78" cy="216.26" r="1.19" fill="#f49ac2"/>
<circle cx="982.7" cy="218.66" r="1.18" fill="#e4a0ee"/>
<circle cx="990.95" cy="214.21" r="1.15" fill="#fbc4a0"/>
<circle cx="982" cy="218.83" r="1.53" fill="#f8b0d0"/>
<circle cx="987.9" cy="216.84" r="1.59" fill="#f6a4cc"/>
<circle cx="993.46" cy="226.23" r="1.45" fill="#f7b6d6"/>
<circle cx="992.72" cy="227.53" r="1.02" fill="#d98ae6"/>
<circle cx="984.22" cy="214.62" r="1.34" fill="#f9d486"/>
<circle cx="992.65" cy="218.17" r="1.42" fill="#f49ac2"/>
<circle cx="982.16" cy="217.88" r="1.27" fill="#e4a0ee"/>
<circle cx="993.91" cy="214.05" r="1.28" fill="#fbc4a0"/>
<circle cx="987.31" cy="219.95" r="1.42" fill="#f8b0d0"/>
<circle cx="982.48" cy="214.29" r="1.49" fill="#f6a4cc"/>
<circle cx="987.23" cy="227.88" r="1.4" fill="#f7b6d6"/>
<circle cx="995.46" cy="222.93" r="1.1" fill="#d98ae6"/>
<circle cx="990.44" cy="223.58" r="1.46" fill="#f9d486"/>
<circle cx="992.09" cy="225.5" r="1.23" fill="#f49ac2"/>
<circle cx="990.6" cy="220.01" r="1.27" fill="#e4a0ee"/>
<circle cx="979.47" cy="219.22" r="1.49" fill="#fbc4a0"/>
<circle cx="992.13" cy="218.14" r="1.25" fill="#f8b0d0"/>
<circle cx="982.54" cy="229.07" r="1.57" fill="#f6a4cc"/>
<circle cx="991.1" cy="225.3" r="1.14" fill="#f7b6d6"/>
<circle cx="989.34" cy="228.71" r="1.35" fill="#d98ae6"/>
<circle cx="988.55" cy="222.62" r="1.25" fill="#f9d486"/>
<circle cx="983.37" cy="227.34" r="1.57" fill="#f49ac2"/>
<circle cx="985.93" cy="215.52" r="1.37" fill="#e4a0ee"/>
<circle cx="987.54" cy="219.99" r="1.54" fill="#fbc4a0"/>
<circle cx="990.39" cy="213.1" r="1.48" fill="#f8b0d0"/>
<circle cx="983.57" cy="225.83" r="1.06" fill="#f6a4cc"/>
<circle cx="986.91" cy="220.19" r="1.04" fill="#f7b6d6"/>
<circle cx="989.65" cy="225.77" r="1.2" fill="#d98ae6"/>
<circle cx="988.75" cy="222.05" r="1.09" fill="#f9d486"/>
<circle cx="993.54" cy="225.48" r="1.02" fill="#f49ac2"/>
<circle cx="994.23" cy="216.61" r="1.09" fill="#e4a0ee"/>
<g transform="translate(977.6 206.4) rotate(4) scale(0.98)"><path d="M-8.4,2 L-2,3.2 M-8.2,5.4 L-2.4,4.4" stroke="#123a3e" stroke-width="1.2" fill="none"/><path d="M-3.6,3.4 C-4.6,-1.6 -2.4,-6.6 1.6,-8.2 C3.4,-6 3.6,-1 2.4,3 Z" fill="#0c5258"/><path d="M-2.2,3.6 C-2.2,-1.8 1.6,-7.2 6,-8.6 C8.2,-5.4 8.6,-0.6 7.4,3 C5.4,4.6 0.6,4.6 -2.2,3.6 Z" fill="#106a70"/><path d="M-0.8,2.6 C-0.6,-1.4 2,-5.6 5.4,-7 C6.8,-4.6 7,-0.8 6.2,1.8 C4,2.8 1.4,3 -0.8,2.6 Z" fill="#34c6d0"/><path d="M-1.6,4 C1.4,4.6 5,4.4 7.2,3.6 C7.6,6.2 5.6,8.4 2.6,8.6 C0.4,8 -1.2,6.2 -1.6,4 Z" fill="#0f6268"/><path d="M-0.4,4.8 C2,5.2 4.4,5 6,4.6 C6,6.2 4.6,7.4 2.8,7.6 C1.2,7.2 0,6.2 -0.4,4.8 Z" fill="#5adde6"/></g>
<g transform="translate(1037.2 190.4) rotate(30) scale(0.34)"><path d="M-8.4,2 L-2,3.2 M-8.2,5.4 L-2.4,4.4" stroke="#123a3e" stroke-width="1.2" fill="none"/><path d="M-3.6,3.4 C-4.6,-1.6 -2.4,-6.6 1.6,-8.2 C3.4,-6 3.6,-1 2.4,3 Z" fill="#0c5258"/><path d="M-2.2,3.6 C-2.2,-1.8 1.6,-7.2 6,-8.6 C8.2,-5.4 8.6,-0.6 7.4,3 C5.4,4.6 0.6,4.6 -2.2,3.6 Z" fill="#106a70"/><path d="M-0.8,2.6 C-0.6,-1.4 2,-5.6 5.4,-7 C6.8,-4.6 7,-0.8 6.2,1.8 C4,2.8 1.4,3 -0.8,2.6 Z" fill="#34c6d0"/><path d="M-1.6,4 C1.4,4.6 5,4.4 7.2,3.6 C7.6,6.2 5.6,8.4 2.6,8.6 C0.4,8 -1.2,6.2 -1.6,4 Z" fill="#0f6268"/><path d="M-0.4,4.8 C2,5.2 4.4,5 6,4.6 C6,6.2 4.6,7.4 2.8,7.6 C1.2,7.2 0,6.2 -0.4,4.8 Z" fill="#5adde6"/></g>
<g transform="translate(1122.2 195) rotate(160) scale(0.4)"><path d="M-8.4,2 L-2,3.2 M-8.2,5.4 L-2.4,4.4" stroke="#123a3e" stroke-width="1.2" fill="none"/><path d="M-3.6,3.4 C-4.6,-1.6 -2.4,-6.6 1.6,-8.2 C3.4,-6 3.6,-1 2.4,3 Z" fill="#0c5258"/><path d="M-2.2,3.6 C-2.2,-1.8 1.6,-7.2 6,-8.6 C8.2,-5.4 8.6,-0.6 7.4,3 C5.4,4.6 0.6,4.6 -2.2,3.6 Z" fill="#106a70"/><path d="M-0.8,2.6 C-0.6,-1.4 2,-5.6 5.4,-7 C6.8,-4.6 7,-0.8 6.2,1.8 C4,2.8 1.4,3 -0.8,2.6 Z" fill="#34c6d0"/><path d="M-1.6,4 C1.4,4.6 5,4.4 7.2,3.6 C7.6,6.2 5.6,8.4 2.6,8.6 C0.4,8 -1.2,6.2 -1.6,4 Z" fill="#0f6268"/><path d="M-0.4,4.8 C2,5.2 4.4,5 6,4.6 C6,6.2 4.6,7.4 2.8,7.6 C1.2,7.2 0,6.2 -0.4,4.8 Z" fill="#5adde6"/></g>
<circle cx="1022.2" cy="206" r="1.5" fill="#dc9cec"/>
<path d="M1004,217.4 l-1.9,-1.9 a1.2,1.2 0 0 1 1.9,-1.4 a1.2,1.2 0 0 1 1.9,1.4 z" fill="#f7b4c4"/>
<circle cx="1041.4" cy="239.6" r="2" fill="#fbe2c0"/>
<circle cx="1044.6" cy="243.8" r="2.2" fill="#f9c4c4"/>
</g></g>
<g transform="translate(38 325)"><ellipse cx="1047.2" cy="305.4" rx="44" ry="4.2" fill="#9a9ca4" opacity="0.35"/>
<ellipse cx="1047.2" cy="304.2" rx="44.2" ry="4.3" fill="url(#mnBase)"/>
<rect x="1041" y="287.5" width="13.2" height="15" fill="url(#mnNeck)"/>
<path d="M956.8,179.2 C1010,180.6 1085,180.2 1138.2,178.4 L1138.5,287.7 C1085,288.6 1010,288.6 956.8,288 Z" fill="#0a0a0b"/>
<rect x="961" y="183.4" width="173.4" height="96.3" fill="url(#mnSky)"/>
<g clip-path="url(#mnClip)">
<g filter="url(#mnBlur)">
<ellipse cx="992" cy="266" rx="36" ry="15" fill="#98d4f1"/>
<ellipse cx="1040" cy="271" rx="46" ry="11" fill="#a2d9f3"/>
<ellipse cx="1080" cy="276" rx="30" ry="7" fill="#b4e1f6"/>
<ellipse cx="968" cy="238" rx="12" ry="26" fill="#b6e3f6"/>
<ellipse cx="985" cy="200" rx="26" ry="13" fill="#d3eefa"/>
<ellipse cx="1012" cy="244" rx="22" ry="9" fill="#c6e9f8"/>
<ellipse cx="1116" cy="214" rx="20" ry="15" fill="#d2eefa"/>
<ellipse cx="1072" cy="214" rx="34" ry="22" fill="#ffffff"/>
<ellipse cx="1112" cy="258" rx="26" ry="14" fill="#fbfeff"/>
</g>
<circle cx="997" cy="259" r="1.6" fill="#ffffff" opacity="0.8"/>
<circle cx="1012" cy="249" r="1.4" fill="#ffffff" opacity="0.8"/>
<circle cx="1026" cy="253" r="1.5" fill="#ffffff" opacity="0.8"/>
<circle cx="1001" cy="268" r="1.3" fill="#ffffff" opacity="0.8"/>
<circle cx="1040" cy="270" r="1.6" fill="#ffffff" opacity="0.8"/>
<circle cx="1018" cy="272" r="1.2" fill="#ffffff" opacity="0.8"/>
<circle cx="985" cy="245" r="1.2" fill="#ffffff" opacity="0.8"/>
<circle cx="1034" cy="262" r="1.1" fill="#ffffff" opacity="0.8"/>
<path d="M979.2,261.6 L1002.4,261.6 L1001.4,280 L980.2,280 Z" fill="url(#mnPot)"/>
<path d="M984,274 l2,1.2 l1.4,-1 l1.2,1.6" stroke="#9a9a9a" stroke-width="0.6" fill="none"/>
<ellipse cx="990.6" cy="256" rx="8.6" ry="1.3" fill="#c8962c"/>
<path d="M976,257 L1005.2,257 L1003.8,262 L977.6,262 Z" fill="#fbf6ee"/>
<path d="M977.6,260.2 L1004,260.2" stroke="#f4c060" stroke-width="1.6" stroke-dasharray="1.6 1.3"/>
<path d="M990.4,255 C990,248 989.4,240 988,232 M991.2,255 C991.2,246 990.6,238 990.4,232" stroke="#8a9a78" stroke-width="0.7" fill="none"/>
<path d="M969.4,236.2 C975,234.6 984,237.4 988,243 C990,246.4 990.8,250 990.6,253 C984,251.8 977,248.6 973,243.6 C971,241 970,238.6 969.4,236.2 Z" fill="url(#mnLeafL)"/>
<path d="M1015,228 C1010,227.2 1001,229 996.4,234 C993.4,237.4 991.6,242 991,246.6 C997,245.4 1004,242 1009,236.6 C1011.6,233.8 1013.6,231 1015,228 Z" fill="url(#mnLeafR)"/>
<path d="M990.4,253.4 L990.8,246 L991.6,246.2 L991.6,254 Z" fill="#2e5e1a"/>
<circle cx="988.6" cy="222" r="10.4" fill="#fbe4ee" opacity="0.75"/>
<circle cx="986.83" cy="225.37" r="1.39" fill="#f6a4cc"/>
<circle cx="995.31" cy="225.12" r="1.22" fill="#f7b6d6"/>
<circle cx="995.39" cy="224.46" r="1.02" fill="#d98ae6"/>
<circle cx="986.14" cy="223.04" r="1.05" fill="#f9d486"/>
<circle cx="980.35" cy="226.02" r="1.07" fill="#f49ac2"/>
<circle cx="989.95" cy="229.57" r="1.57" fill="#e4a0ee"/>
<circle cx="982.92" cy="219.16" r="1.59" fill="#fbc4a0"/>
<circle cx="997.65" cy="224.59" r="1.17" fill="#f8b0d0"/>
<circle cx="990.76" cy="224.62" r="1.19" fill="#f6a4cc"/>
<circle cx="990.35" cy="218.23" r="1.35" fill="#f7b6d6"/>
<circle cx="984.6" cy="217.47" r="1.33" fill="#d98ae6"/>
<circle cx="990.9" cy="222.91" r="1.12" fill="#f9d486"/>
<circle cx="985.78" cy="216.26" r="1.19" fill="#f49ac2"/>
<circle cx="982.7" cy="218.66" r="1.18" fill="#e4a0ee"/>
<circle cx="990.95" cy="214.21" r="1.15" fill="#fbc4a0"/>
<circle cx="982" cy="218.83" r="1.53" fill="#f8b0d0"/>
<circle cx="987.9" cy="216.84" r="1.59" fill="#f6a4cc"/>
<circle cx="993.46" cy="226.23" r="1.45" fill="#f7b6d6"/>
<circle cx="992.72" cy="227.53" r="1.02" fill="#d98ae6"/>
<circle cx="984.22" cy="214.62" r="1.34" fill="#f9d486"/>
<circle cx="992.65" cy="218.17" r="1.42" fill="#f49ac2"/>
<circle cx="982.16" cy="217.88" r="1.27" fill="#e4a0ee"/>
<circle cx="993.91" cy="214.05" r="1.28" fill="#fbc4a0"/>
<circle cx="987.31" cy="219.95" r="1.42" fill="#f8b0d0"/>
<circle cx="982.48" cy="214.29" r="1.49" fill="#f6a4cc"/>
<circle cx="987.23" cy="227.88" r="1.4" fill="#f7b6d6"/>
<circle cx="995.46" cy="222.93" r="1.1" fill="#d98ae6"/>
<circle cx="990.44" cy="223.58" r="1.46" fill="#f9d486"/>
<circle cx="992.09" cy="225.5" r="1.23" fill="#f49ac2"/>
<circle cx="990.6" cy="220.01" r="1.27" fill="#e4a0ee"/>
<circle cx="979.47" cy="219.22" r="1.49" fill="#fbc4a0"/>
<circle cx="992.13" cy="218.14" r="1.25" fill="#f8b0d0"/>
<circle cx="982.54" cy="229.07" r="1.57" fill="#f6a4cc"/>
<circle cx="991.1" cy="225.3" r="1.14" fill="#f7b6d6"/>
<circle cx="989.34" cy="228.71" r="1.35" fill="#d98ae6"/>
<circle cx="988.55" cy="222.62" r="1.25" fill="#f9d486"/>
<circle cx="983.37" cy="227.34" r="1.57" fill="#f49ac2"/>
<circle cx="985.93" cy="215.52" r="1.37" fill="#e4a0ee"/>
<circle cx="987.54" cy="219.99" r="1.54" fill="#fbc4a0"/>
<circle cx="990.39" cy="213.1" r="1.48" fill="#f8b0d0"/>
<circle cx="983.57" cy="225.83" r="1.06" fill="#f6a4cc"/>
<circle cx="986.91" cy="220.19" r="1.04" fill="#f7b6d6"/>
<circle cx="989.65" cy="225.77" r="1.2" fill="#d98ae6"/>
<circle cx="988.75" cy="222.05" r="1.09" fill="#f9d486"/>
<circle cx="993.54" cy="225.48" r="1.02" fill="#f49ac2"/>
<circle cx="994.23" cy="216.61" r="1.09" fill="#e4a0ee"/>
<g transform="translate(977.6 206.4) rotate(4) scale(0.98)"><path d="M-8.4,2 L-2,3.2 M-8.2,5.4 L-2.4,4.4" stroke="#123a3e" stroke-width="1.2" fill="none"/><path d="M-3.6,3.4 C-4.6,-1.6 -2.4,-6.6 1.6,-8.2 C3.4,-6 3.6,-1 2.4,3 Z" fill="#0c5258"/><path d="M-2.2,3.6 C-2.2,-1.8 1.6,-7.2 6,-8.6 C8.2,-5.4 8.6,-0.6 7.4,3 C5.4,4.6 0.6,4.6 -2.2,3.6 Z" fill="#106a70"/><path d="M-0.8,2.6 C-0.6,-1.4 2,-5.6 5.4,-7 C6.8,-4.6 7,-0.8 6.2,1.8 C4,2.8 1.4,3 -0.8,2.6 Z" fill="#34c6d0"/><path d="M-1.6,4 C1.4,4.6 5,4.4 7.2,3.6 C7.6,6.2 5.6,8.4 2.6,8.6 C0.4,8 -1.2,6.2 -1.6,4 Z" fill="#0f6268"/><path d="M-0.4,4.8 C2,5.2 4.4,5 6,4.6 C6,6.2 4.6,7.4 2.8,7.6 C1.2,7.2 0,6.2 -0.4,4.8 Z" fill="#5adde6"/></g>
<g transform="translate(1037.2 190.4) rotate(30) scale(0.34)"><path d="M-8.4,2 L-2,3.2 M-8.2,5.4 L-2.4,4.4" stroke="#123a3e" stroke-width="1.2" fill="none"/><path d="M-3.6,3.4 C-4.6,-1.6 -2.4,-6.6 1.6,-8.2 C3.4,-6 3.6,-1 2.4,3 Z" fill="#0c5258"/><path d="M-2.2,3.6 C-2.2,-1.8 1.6,-7.2 6,-8.6 C8.2,-5.4 8.6,-0.6 7.4,3 C5.4,4.6 0.6,4.6 -2.2,3.6 Z" fill="#106a70"/><path d="M-0.8,2.6 C-0.6,-1.4 2,-5.6 5.4,-7 C6.8,-4.6 7,-0.8 6.2,1.8 C4,2.8 1.4,3 -0.8,2.6 Z" fill="#34c6d0"/><path d="M-1.6,4 C1.4,4.6 5,4.4 7.2,3.6 C7.6,6.2 5.6,8.4 2.6,8.6 C0.4,8 -1.2,6.2 -1.6,4 Z" fill="#0f6268"/><path d="M-0.4,4.8 C2,5.2 4.4,5 6,4.6 C6,6.2 4.6,7.4 2.8,7.6 C1.2,7.2 0,6.2 -0.4,4.8 Z" fill="#5adde6"/></g>
<g transform="translate(1122.2 195) rotate(160) scale(0.4)"><path d="M-8.4,2 L-2,3.2 M-8.2,5.4 L-2.4,4.4" stroke="#123a3e" stroke-width="1.2" fill="none"/><path d="M-3.6,3.4 C-4.6,-1.6 -2.4,-6.6 1.6,-8.2 C3.4,-6 3.6,-1 2.4,3 Z" fill="#0c5258"/><path d="M-2.2,3.6 C-2.2,-1.8 1.6,-7.2 6,-8.6 C8.2,-5.4 8.6,-0.6 7.4,3 C5.4,4.6 0.6,4.6 -2.2,3.6 Z" fill="#106a70"/><path d="M-0.8,2.6 C-0.6,-1.4 2,-5.6 5.4,-7 C6.8,-4.6 7,-0.8 6.2,1.8 C4,2.8 1.4,3 -0.8,2.6 Z" fill="#34c6d0"/><path d="M-1.6,4 C1.4,4.6 5,4.4 7.2,3.6 C7.6,6.2 5.6,8.4 2.6,8.6 C0.4,8 -1.2,6.2 -1.6,4 Z" fill="#0f6268"/><path d="M-0.4,4.8 C2,5.2 4.4,5 6,4.6 C6,6.2 4.6,7.4 2.8,7.6 C1.2,7.2 0,6.2 -0.4,4.8 Z" fill="#5adde6"/></g>
<circle cx="1022.2" cy="206" r="1.5" fill="#dc9cec"/>
<path d="M1004,217.4 l-1.9,-1.9 a1.2,1.2 0 0 1 1.9,-1.4 a1.2,1.2 0 0 1 1.9,1.4 z" fill="#f7b4c4"/>
<circle cx="1041.4" cy="239.6" r="2" fill="#fbe2c0"/>
<circle cx="1044.6" cy="243.8" r="2.2" fill="#f9c4c4"/>
</g></g>
<g transform="translate(39.8 561.7)"><ellipse cx="1047.2" cy="305.4" rx="44" ry="4.2" fill="#9a9ca4" opacity="0.35"/>
<ellipse cx="1047.2" cy="304.2" rx="44.2" ry="4.3" fill="url(#mnBase)"/>
<rect x="1041" y="287.5" width="13.2" height="15" fill="url(#mnNeck)"/>
<path d="M956.8,179.2 C1010,180.6 1085,180.2 1138.2,178.4 L1138.5,287.7 C1085,288.6 1010,288.6 956.8,288 Z" fill="#0a0a0b"/>
<rect x="961" y="183.4" width="173.4" height="96.3" fill="url(#mnSky)"/>
<g clip-path="url(#mnClip)">
<g filter="url(#mnBlur)">
<ellipse cx="992" cy="266" rx="36" ry="15" fill="#98d4f1"/>
<ellipse cx="1040" cy="271" rx="46" ry="11" fill="#a2d9f3"/>
<ellipse cx="1080" cy="276" rx="30" ry="7" fill="#b4e1f6"/>
<ellipse cx="968" cy="238" rx="12" ry="26" fill="#b6e3f6"/>
<ellipse cx="985" cy="200" rx="26" ry="13" fill="#d3eefa"/>
<ellipse cx="1012" cy="244" rx="22" ry="9" fill="#c6e9f8"/>
<ellipse cx="1116" cy="214" rx="20" ry="15" fill="#d2eefa"/>
<ellipse cx="1072" cy="214" rx="34" ry="22" fill="#ffffff"/>
<ellipse cx="1112" cy="258" rx="26" ry="14" fill="#fbfeff"/>
</g>
<circle cx="997" cy="259" r="1.6" fill="#ffffff" opacity="0.8"/>
<circle cx="1012" cy="249" r="1.4" fill="#ffffff" opacity="0.8"/>
<circle cx="1026" cy="253" r="1.5" fill="#ffffff" opacity="0.8"/>
<circle cx="1001" cy="268" r="1.3" fill="#ffffff" opacity="0.8"/>
<circle cx="1040" cy="270" r="1.6" fill="#ffffff" opacity="0.8"/>
<circle cx="1018" cy="272" r="1.2" fill="#ffffff" opacity="0.8"/>
<circle cx="985" cy="245" r="1.2" fill="#ffffff" opacity="0.8"/>
<circle cx="1034" cy="262" r="1.1" fill="#ffffff" opacity="0.8"/>
<path d="M979.2,261.6 L1002.4,261.6 L1001.4,280 L980.2,280 Z" fill="url(#mnPot)"/>
<path d="M984,274 l2,1.2 l1.4,-1 l1.2,1.6" stroke="#9a9a9a" stroke-width="0.6" fill="none"/>
<ellipse cx="990.6" cy="256" rx="8.6" ry="1.3" fill="#c8962c"/>
<path d="M976,257 L1005.2,257 L1003.8,262 L977.6,262 Z" fill="#fbf6ee"/>
<path d="M977.6,260.2 L1004,260.2" stroke="#f4c060" stroke-width="1.6" stroke-dasharray="1.6 1.3"/>
<path d="M990.4,255 C990,248 989.4,240 988,232 M991.2,255 C991.2,246 990.6,238 990.4,232" stroke="#8a9a78" stroke-width="0.7" fill="none"/>
<path d="M969.4,236.2 C975,234.6 984,237.4 988,243 C990,246.4 990.8,250 990.6,253 C984,251.8 977,248.6 973,243.6 C971,241 970,238.6 969.4,236.2 Z" fill="url(#mnLeafL)"/>
<path d="M1015,228 C1010,227.2 1001,229 996.4,234 C993.4,237.4 991.6,242 991,246.6 C997,245.4 1004,242 1009,236.6 C1011.6,233.8 1013.6,231 1015,228 Z" fill="url(#mnLeafR)"/>
<path d="M990.4,253.4 L990.8,246 L991.6,246.2 L991.6,254 Z" fill="#2e5e1a"/>
<circle cx="988.6" cy="222" r="10.4" fill="#fbe4ee" opacity="0.75"/>
<circle cx="986.83" cy="225.37" r="1.39" fill="#f6a4cc"/>
<circle cx="995.31" cy="225.12" r="1.22" fill="#f7b6d6"/>
<circle cx="995.39" cy="224.46" r="1.02" fill="#d98ae6"/>
<circle cx="986.14" cy="223.04" r="1.05" fill="#f9d486"/>
<circle cx="980.35" cy="226.02" r="1.07" fill="#f49ac2"/>
<circle cx="989.95" cy="229.57" r="1.57" fill="#e4a0ee"/>
<circle cx="982.92" cy="219.16" r="1.59" fill="#fbc4a0"/>
<circle cx="997.65" cy="224.59" r="1.17" fill="#f8b0d0"/>
<circle cx="990.76" cy="224.62" r="1.19" fill="#f6a4cc"/>
<circle cx="990.35" cy="218.23" r="1.35" fill="#f7b6d6"/>
<circle cx="984.6" cy="217.47" r="1.33" fill="#d98ae6"/>
<circle cx="990.9" cy="222.91" r="1.12" fill="#f9d486"/>
<circle cx="985.78" cy="216.26" r="1.19" fill="#f49ac2"/>
<circle cx="982.7" cy="218.66" r="1.18" fill="#e4a0ee"/>
<circle cx="990.95" cy="214.21" r="1.15" fill="#fbc4a0"/>
<circle cx="982" cy="218.83" r="1.53" fill="#f8b0d0"/>
<circle cx="987.9" cy="216.84" r="1.59" fill="#f6a4cc"/>
<circle cx="993.46" cy="226.23" r="1.45" fill="#f7b6d6"/>
<circle cx="992.72" cy="227.53" r="1.02" fill="#d98ae6"/>
<circle cx="984.22" cy="214.62" r="1.34" fill="#f9d486"/>
<circle cx="992.65" cy="218.17" r="1.42" fill="#f49ac2"/>
<circle cx="982.16" cy="217.88" r="1.27" fill="#e4a0ee"/>
<circle cx="993.91" cy="214.05" r="1.28" fill="#fbc4a0"/>
<circle cx="987.31" cy="219.95" r="1.42" fill="#f8b0d0"/>
<circle cx="982.48" cy="214.29" r="1.49" fill="#f6a4cc"/>
<circle cx="987.23" cy="227.88" r="1.4" fill="#f7b6d6"/>
<circle cx="995.46" cy="222.93" r="1.1" fill="#d98ae6"/>
<circle cx="990.44" cy="223.58" r="1.46" fill="#f9d486"/>
<circle cx="992.09" cy="225.5" r="1.23" fill="#f49ac2"/>
<circle cx="990.6" cy="220.01" r="1.27" fill="#e4a0ee"/>
<circle cx="979.47" cy="219.22" r="1.49" fill="#fbc4a0"/>
<circle cx="992.13" cy="218.14" r="1.25" fill="#f8b0d0"/>
<circle cx="982.54" cy="229.07" r="1.57" fill="#f6a4cc"/>
<circle cx="991.1" cy="225.3" r="1.14" fill="#f7b6d6"/>
<circle cx="989.34" cy="228.71" r="1.35" fill="#d98ae6"/>
<circle cx="988.55" cy="222.62" r="1.25" fill="#f9d486"/>
<circle cx="983.37" cy="227.34" r="1.57" fill="#f49ac2"/>
<circle cx="985.93" cy="215.52" r="1.37" fill="#e4a0ee"/>
<circle cx="987.54" cy="219.99" r="1.54" fill="#fbc4a0"/>
<circle cx="990.39" cy="213.1" r="1.48" fill="#f8b0d0"/>
<circle cx="983.57" cy="225.83" r="1.06" fill="#f6a4cc"/>
<circle cx="986.91" cy="220.19" r="1.04" fill="#f7b6d6"/>
<circle cx="989.65" cy="225.77" r="1.2" fill="#d98ae6"/>
<circle cx="988.75" cy="222.05" r="1.09" fill="#f9d486"/>
<circle cx="993.54" cy="225.48" r="1.02" fill="#f49ac2"/>
<circle cx="994.23" cy="216.61" r="1.09" fill="#e4a0ee"/>
<g transform="translate(977.6 206.4) rotate(4) scale(0.98)"><path d="M-8.4,2 L-2,3.2 M-8.2,5.4 L-2.4,4.4" stroke="#123a3e" stroke-width="1.2" fill="none"/><path d="M-3.6,3.4 C-4.6,-1.6 -2.4,-6.6 1.6,-8.2 C3.4,-6 3.6,-1 2.4,3 Z" fill="#0c5258"/><path d="M-2.2,3.6 C-2.2,-1.8 1.6,-7.2 6,-8.6 C8.2,-5.4 8.6,-0.6 7.4,3 C5.4,4.6 0.6,4.6 -2.2,3.6 Z" fill="#106a70"/><path d="M-0.8,2.6 C-0.6,-1.4 2,-5.6 5.4,-7 C6.8,-4.6 7,-0.8 6.2,1.8 C4,2.8 1.4,3 -0.8,2.6 Z" fill="#34c6d0"/><path d="M-1.6,4 C1.4,4.6 5,4.4 7.2,3.6 C7.6,6.2 5.6,8.4 2.6,8.6 C0.4,8 -1.2,6.2 -1.6,4 Z" fill="#0f6268"/><path d="M-0.4,4.8 C2,5.2 4.4,5 6,4.6 C6,6.2 4.6,7.4 2.8,7.6 C1.2,7.2 0,6.2 -0.4,4.8 Z" fill="#5adde6"/></g>
<g transform="translate(1037.2 190.4) rotate(30) scale(0.34)"><path d="M-8.4,2 L-2,3.2 M-8.2,5.4 L-2.4,4.4" stroke="#123a3e" stroke-width="1.2" fill="none"/><path d="M-3.6,3.4 C-4.6,-1.6 -2.4,-6.6 1.6,-8.2 C3.4,-6 3.6,-1 2.4,3 Z" fill="#0c5258"/><path d="M-2.2,3.6 C-2.2,-1.8 1.6,-7.2 6,-8.6 C8.2,-5.4 8.6,-0.6 7.4,3 C5.4,4.6 0.6,4.6 -2.2,3.6 Z" fill="#106a70"/><path d="M-0.8,2.6 C-0.6,-1.4 2,-5.6 5.4,-7 C6.8,-4.6 7,-0.8 6.2,1.8 C4,2.8 1.4,3 -0.8,2.6 Z" fill="#34c6d0"/><path d="M-1.6,4 C1.4,4.6 5,4.4 7.2,3.6 C7.6,6.2 5.6,8.4 2.6,8.6 C0.4,8 -1.2,6.2 -1.6,4 Z" fill="#0f6268"/><path d="M-0.4,4.8 C2,5.2 4.4,5 6,4.6 C6,6.2 4.6,7.4 2.8,7.6 C1.2,7.2 0,6.2 -0.4,4.8 Z" fill="#5adde6"/></g>
<g transform="translate(1122.2 195) rotate(160) scale(0.4)"><path d="M-8.4,2 L-2,3.2 M-8.2,5.4 L-2.4,4.4" stroke="#123a3e" stroke-width="1.2" fill="none"/><path d="M-3.6,3.4 C-4.6,-1.6 -2.4,-6.6 1.6,-8.2 C3.4,-6 3.6,-1 2.4,3 Z" fill="#0c5258"/><path d="M-2.2,3.6 C-2.2,-1.8 1.6,-7.2 6,-8.6 C8.2,-5.4 8.6,-0.6 7.4,3 C5.4,4.6 0.6,4.6 -2.2,3.6 Z" fill="#106a70"/><path d="M-0.8,2.6 C-0.6,-1.4 2,-5.6 5.4,-7 C6.8,-4.6 7,-0.8 6.2,1.8 C4,2.8 1.4,3 -0.8,2.6 Z" fill="#34c6d0"/><path d="M-1.6,4 C1.4,4.6 5,4.4 7.2,3.6 C7.6,6.2 5.6,8.4 2.6,8.6 C0.4,8 -1.2,6.2 -1.6,4 Z" fill="#0f6268"/><path d="M-0.4,4.8 C2,5.2 4.4,5 6,4.6 C6,6.2 4.6,7.4 2.8,7.6 C1.2,7.2 0,6.2 -0.4,4.8 Z" fill="#5adde6"/></g>
<circle cx="1022.2" cy="206" r="1.5" fill="#dc9cec"/>
<path d="M1004,217.4 l-1.9,-1.9 a1.2,1.2 0 0 1 1.9,-1.4 a1.2,1.2 0 0 1 1.9,1.4 z" fill="#f7b4c4"/>
<circle cx="1041.4" cy="239.6" r="2" fill="#fbe2c0"/>
<circle cx="1044.6" cy="243.8" r="2.2" fill="#f9c4c4"/>
</g></g>
<g transform="translate(31.1 794.1)"><ellipse cx="1047.2" cy="305.4" rx="44" ry="4.2" fill="#9a9ca4" opacity="0.35"/>
<ellipse cx="1047.2" cy="304.2" rx="44.2" ry="4.3" fill="url(#mnBase)"/>
<rect x="1041" y="287.5" width="13.2" height="15" fill="url(#mnNeck)"/>
<path d="M956.8,179.2 C1010,180.6 1085,180.2 1138.2,178.4 L1138.5,287.7 C1085,288.6 1010,288.6 956.8,288 Z" fill="#0a0a0b"/>
<rect x="961" y="183.4" width="173.4" height="96.3" fill="url(#mnSky)"/>
<g clip-path="url(#mnClip)">
<g filter="url(#mnBlur)">
<ellipse cx="992" cy="266" rx="36" ry="15" fill="#98d4f1"/>
<ellipse cx="1040" cy="271" rx="46" ry="11" fill="#a2d9f3"/>
<ellipse cx="1080" cy="276" rx="30" ry="7" fill="#b4e1f6"/>
<ellipse cx="968" cy="238" rx="12" ry="26" fill="#b6e3f6"/>
<ellipse cx="985" cy="200" rx="26" ry="13" fill="#d3eefa"/>
<ellipse cx="1012" cy="244" rx="22" ry="9" fill="#c6e9f8"/>
<ellipse cx="1116" cy="214" rx="20" ry="15" fill="#d2eefa"/>
<ellipse cx="1072" cy="214" rx="34" ry="22" fill="#ffffff"/>
<ellipse cx="1112" cy="258" rx="26" ry="14" fill="#fbfeff"/>
</g>
<circle cx="997" cy="259" r="1.6" fill="#ffffff" opacity="0.8"/>
<circle cx="1012" cy="249" r="1.4" fill="#ffffff" opacity="0.8"/>
<circle cx="1026" cy="253" r="1.5" fill="#ffffff" opacity="0.8"/>
<circle cx="1001" cy="268" r="1.3" fill="#ffffff" opacity="0.8"/>
<circle cx="1040" cy="270" r="1.6" fill="#ffffff" opacity="0.8"/>
<circle cx="1018" cy="272" r="1.2" fill="#ffffff" opacity="0.8"/>
<circle cx="985" cy="245" r="1.2" fill="#ffffff" opacity="0.8"/>
<circle cx="1034" cy="262" r="1.1" fill="#ffffff" opacity="0.8"/>
<path d="M979.2,261.6 L1002.4,261.6 L1001.4,280 L980.2,280 Z" fill="url(#mnPot)"/>
<path d="M984,274 l2,1.2 l1.4,-1 l1.2,1.6" stroke="#9a9a9a" stroke-width="0.6" fill="none"/>
<ellipse cx="990.6" cy="256" rx="8.6" ry="1.3" fill="#c8962c"/>
<path d="M976,257 L1005.2,257 L1003.8,262 L977.6,262 Z" fill="#fbf6ee"/>
<path d="M977.6,260.2 L1004,260.2" stroke="#f4c060" stroke-width="1.6" stroke-dasharray="1.6 1.3"/>
<path d="M990.4,255 C990,248 989.4,240 988,232 M991.2,255 C991.2,246 990.6,238 990.4,232" stroke="#8a9a78" stroke-width="0.7" fill="none"/>
<path d="M969.4,236.2 C975,234.6 984,237.4 988,243 C990,246.4 990.8,250 990.6,253 C984,251.8 977,248.6 973,243.6 C971,241 970,238.6 969.4,236.2 Z" fill="url(#mnLeafL)"/>
<path d="M1015,228 C1010,227.2 1001,229 996.4,234 C993.4,237.4 991.6,242 991,246.6 C997,245.4 1004,242 1009,236.6 C1011.6,233.8 1013.6,231 1015,228 Z" fill="url(#mnLeafR)"/>
<path d="M990.4,253.4 L990.8,246 L991.6,246.2 L991.6,254 Z" fill="#2e5e1a"/>
<circle cx="988.6" cy="222" r="10.4" fill="#fbe4ee" opacity="0.75"/>
<circle cx="986.83" cy="225.37" r="1.39" fill="#f6a4cc"/>
<circle cx="995.31" cy="225.12" r="1.22" fill="#f7b6d6"/>
<circle cx="995.39" cy="224.46" r="1.02" fill="#d98ae6"/>
<circle cx="986.14" cy="223.04" r="1.05" fill="#f9d486"/>
<circle cx="980.35" cy="226.02" r="1.07" fill="#f49ac2"/>
<circle cx="989.95" cy="229.57" r="1.57" fill="#e4a0ee"/>
<circle cx="982.92" cy="219.16" r="1.59" fill="#fbc4a0"/>
<circle cx="997.65" cy="224.59" r="1.17" fill="#f8b0d0"/>
<circle cx="990.76" cy="224.62" r="1.19" fill="#f6a4cc"/>
<circle cx="990.35" cy="218.23" r="1.35" fill="#f7b6d6"/>
<circle cx="984.6" cy="217.47" r="1.33" fill="#d98ae6"/>
<circle cx="990.9" cy="222.91" r="1.12" fill="#f9d486"/>
<circle cx="985.78" cy="216.26" r="1.19" fill="#f49ac2"/>
<circle cx="982.7" cy="218.66" r="1.18" fill="#e4a0ee"/>
<circle cx="990.95" cy="214.21" r="1.15" fill="#fbc4a0"/>
<circle cx="982" cy="218.83" r="1.53" fill="#f8b0d0"/>
<circle cx="987.9" cy="216.84" r="1.59" fill="#f6a4cc"/>
<circle cx="993.46" cy="226.23" r="1.45" fill="#f7b6d6"/>
<circle cx="992.72" cy="227.53" r="1.02" fill="#d98ae6"/>
<circle cx="984.22" cy="214.62" r="1.34" fill="#f9d486"/>
<circle cx="992.65" cy="218.17" r="1.42" fill="#f49ac2"/>
<circle cx="982.16" cy="217.88" r="1.27" fill="#e4a0ee"/>
<circle cx="993.91" cy="214.05" r="1.28" fill="#fbc4a0"/>
<circle cx="987.31" cy="219.95" r="1.42" fill="#f8b0d0"/>
<circle cx="982.48" cy="214.29" r="1.49" fill="#f6a4cc"/>
<circle cx="987.23" cy="227.88" r="1.4" fill="#f7b6d6"/>
<circle cx="995.46" cy="222.93" r="1.1" fill="#d98ae6"/>
<circle cx="990.44" cy="223.58" r="1.46" fill="#f9d486"/>
<circle cx="992.09" cy="225.5" r="1.23" fill="#f49ac2"/>
<circle cx="990.6" cy="220.01" r="1.27" fill="#e4a0ee"/>
<circle cx="979.47" cy="219.22" r="1.49" fill="#fbc4a0"/>
<circle cx="992.13" cy="218.14" r="1.25" fill="#f8b0d0"/>
<circle cx="982.54" cy="229.07" r="1.57" fill="#f6a4cc"/>
<circle cx="991.1" cy="225.3" r="1.14" fill="#f7b6d6"/>
<circle cx="989.34" cy="228.71" r="1.35" fill="#d98ae6"/>
<circle cx="988.55" cy="222.62" r="1.25" fill="#f9d486"/>
<circle cx="983.37" cy="227.34" r="1.57" fill="#f49ac2"/>
<circle cx="985.93" cy="215.52" r="1.37" fill="#e4a0ee"/>
<circle cx="987.54" cy="219.99" r="1.54" fill="#fbc4a0"/>
<circle cx="990.39" cy="213.1" r="1.48" fill="#f8b0d0"/>
<circle cx="983.57" cy="225.83" r="1.06" fill="#f6a4cc"/>
<circle cx="986.91" cy="220.19" r="1.04" fill="#f7b6d6"/>
<circle cx="989.65" cy="225.77" r="1.2" fill="#d98ae6"/>
<circle cx="988.75" cy="222.05" r="1.09" fill="#f9d486"/>
<circle cx="993.54" cy="225.48" r="1.02" fill="#f49ac2"/>
<circle cx="994.23" cy="216.61" r="1.09" fill="#e4a0ee"/>
<g transform="translate(977.6 206.4) rotate(4) scale(0.98)"><path d="M-8.4,2 L-2,3.2 M-8.2,5.4 L-2.4,4.4" stroke="#123a3e" stroke-width="1.2" fill="none"/><path d="M-3.6,3.4 C-4.6,-1.6 -2.4,-6.6 1.6,-8.2 C3.4,-6 3.6,-1 2.4,3 Z" fill="#0c5258"/><path d="M-2.2,3.6 C-2.2,-1.8 1.6,-7.2 6,-8.6 C8.2,-5.4 8.6,-0.6 7.4,3 C5.4,4.6 0.6,4.6 -2.2,3.6 Z" fill="#106a70"/><path d="M-0.8,2.6 C-0.6,-1.4 2,-5.6 5.4,-7 C6.8,-4.6 7,-0.8 6.2,1.8 C4,2.8 1.4,3 -0.8,2.6 Z" fill="#34c6d0"/><path d="M-1.6,4 C1.4,4.6 5,4.4 7.2,3.6 C7.6,6.2 5.6,8.4 2.6,8.6 C0.4,8 -1.2,6.2 -1.6,4 Z" fill="#0f6268"/><path d="M-0.4,4.8 C2,5.2 4.4,5 6,4.6 C6,6.2 4.6,7.4 2.8,7.6 C1.2,7.2 0,6.2 -0.4,4.8 Z" fill="#5adde6"/></g>
<g transform="translate(1037.2 190.4) rotate(30) scale(0.34)"><path d="M-8.4,2 L-2,3.2 M-8.2,5.4 L-2.4,4.4" stroke="#123a3e" stroke-width="1.2" fill="none"/><path d="M-3.6,3.4 C-4.6,-1.6 -2.4,-6.6 1.6,-8.2 C3.4,-6 3.6,-1 2.4,3 Z" fill="#0c5258"/><path d="M-2.2,3.6 C-2.2,-1.8 1.6,-7.2 6,-8.6 C8.2,-5.4 8.6,-0.6 7.4,3 C5.4,4.6 0.6,4.6 -2.2,3.6 Z" fill="#106a70"/><path d="M-0.8,2.6 C-0.6,-1.4 2,-5.6 5.4,-7 C6.8,-4.6 7,-0.8 6.2,1.8 C4,2.8 1.4,3 -0.8,2.6 Z" fill="#34c6d0"/><path d="M-1.6,4 C1.4,4.6 5,4.4 7.2,3.6 C7.6,6.2 5.6,8.4 2.6,8.6 C0.4,8 -1.2,6.2 -1.6,4 Z" fill="#0f6268"/><path d="M-0.4,4.8 C2,5.2 4.4,5 6,4.6 C6,6.2 4.6,7.4 2.8,7.6 C1.2,7.2 0,6.2 -0.4,4.8 Z" fill="#5adde6"/></g>
<g transform="translate(1122.2 195) rotate(160) scale(0.4)"><path d="M-8.4,2 L-2,3.2 M-8.2,5.4 L-2.4,4.4" stroke="#123a3e" stroke-width="1.2" fill="none"/><path d="M-3.6,3.4 C-4.6,-1.6 -2.4,-6.6 1.6,-8.2 C3.4,-6 3.6,-1 2.4,3 Z" fill="#0c5258"/><path d="M-2.2,3.6 C-2.2,-1.8 1.6,-7.2 6,-8.6 C8.2,-5.4 8.6,-0.6 7.4,3 C5.4,4.6 0.6,4.6 -2.2,3.6 Z" fill="#106a70"/><path d="M-0.8,2.6 C-0.6,-1.4 2,-5.6 5.4,-7 C6.8,-4.6 7,-0.8 6.2,1.8 C4,2.8 1.4,3 -0.8,2.6 Z" fill="#34c6d0"/><path d="M-1.6,4 C1.4,4.6 5,4.4 7.2,3.6 C7.6,6.2 5.6,8.4 2.6,8.6 C0.4,8 -1.2,6.2 -1.6,4 Z" fill="#0f6268"/><path d="M-0.4,4.8 C2,5.2 4.4,5 6,4.6 C6,6.2 4.6,7.4 2.8,7.6 C1.2,7.2 0,6.2 -0.4,4.8 Z" fill="#5adde6"/></g>
<circle cx="1022.2" cy="206" r="1.5" fill="#dc9cec"/>
<path d="M1004,217.4 l-1.9,-1.9 a1.2,1.2 0 0 1 1.9,-1.4 a1.2,1.2 0 0 1 1.9,1.4 z" fill="#f7b4c4"/>
<circle cx="1041.4" cy="239.6" r="2" fill="#fbe2c0"/>
<circle cx="1044.6" cy="243.8" r="2.2" fill="#f9c4c4"/>
</g></g>
<g><rect x="833" y="573.2" width="119" height="4.6" fill="#161617"/>
<rect x="803.1" y="570.2" width="7" height="9.9" fill="url(#hdTip)"/>
<rect x="805.4" y="572.9" width="1.3" height="1.3" fill="#8c8c8c"/>
<rect x="805.4" y="576.2" width="1.3" height="1.3" fill="#8c8c8c"/>
<path d="M809.4,568.6 L822,568.9 Q830,569.8 834,572 L834,578.7 Q830,581 822,581.7 L809.4,582 Z" fill="#111112"/>
<path d="M811.5,572.1 L820.8,572.1 Q824.3,572.1 824.3,575.55 Q824.3,579 820.8,579 L811.5,579 Z" fill="url(#hdIns)"/>
<path d="M824.6,570.6 Q827.6,575.4 824.6,580.4" stroke="#4a4a4c" stroke-width="1.6" fill="none"/>
<g transform="translate(1785.6 0) scale(-1 1)"><rect x="803.1" y="570.2" width="7" height="9.9" fill="url(#hdTip)"/>
<rect x="805.4" y="572.9" width="1.3" height="1.3" fill="#8c8c8c"/>
<rect x="805.4" y="576.2" width="1.3" height="1.3" fill="#8c8c8c"/>
<path d="M809.4,568.6 L822,568.9 Q830,569.8 834,572 L834,578.7 Q830,581 822,581.7 L809.4,582 Z" fill="#111112"/>
<path d="M811.5,572.1 L820.8,572.1 Q824.3,572.1 824.3,575.55 Q824.3,579 820.8,579 L811.5,579 Z" fill="url(#hdIns)"/>
<path d="M824.6,570.6 Q827.6,575.4 824.6,580.4" stroke="#4a4a4c" stroke-width="1.6" fill="none"/></g></g>
<g transform="translate(0 240.2)"><rect x="833" y="573.2" width="119" height="4.6" fill="#161617"/>
<rect x="803.1" y="570.2" width="7" height="9.9" fill="url(#hdTip)"/>
<rect x="805.4" y="572.9" width="1.3" height="1.3" fill="#8c8c8c"/>
<rect x="805.4" y="576.2" width="1.3" height="1.3" fill="#8c8c8c"/>
<path d="M809.4,568.6 L822,568.9 Q830,569.8 834,572 L834,578.7 Q830,581 822,581.7 L809.4,582 Z" fill="#111112"/>
<path d="M811.5,572.1 L820.8,572.1 Q824.3,572.1 824.3,575.55 Q824.3,579 820.8,579 L811.5,579 Z" fill="url(#hdIns)"/>
<path d="M824.6,570.6 Q827.6,575.4 824.6,580.4" stroke="#4a4a4c" stroke-width="1.6" fill="none"/>
<g transform="translate(1785.6 0) scale(-1 1)"><rect x="803.1" y="570.2" width="7" height="9.9" fill="url(#hdTip)"/>
<rect x="805.4" y="572.9" width="1.3" height="1.3" fill="#8c8c8c"/>
<rect x="805.4" y="576.2" width="1.3" height="1.3" fill="#8c8c8c"/>
<path d="M809.4,568.6 L822,568.9 Q830,569.8 834,572 L834,578.7 Q830,581 822,581.7 L809.4,582 Z" fill="#111112"/>
<path d="M811.5,572.1 L820.8,572.1 Q824.3,572.1 824.3,575.55 Q824.3,579 820.8,579 L811.5,579 Z" fill="url(#hdIns)"/>
<path d="M824.6,570.6 Q827.6,575.4 824.6,580.4" stroke="#4a4a4c" stroke-width="1.6" fill="none"/></g></g>
<g transform="translate(0 472.2)"><rect x="833" y="573.2" width="119" height="4.6" fill="#161617"/>
<rect x="803.1" y="570.2" width="7" height="9.9" fill="url(#hdTip)"/>
<rect x="805.4" y="572.9" width="1.3" height="1.3" fill="#8c8c8c"/>
<rect x="805.4" y="576.2" width="1.3" height="1.3" fill="#8c8c8c"/>
<path d="M809.4,568.6 L822,568.9 Q830,569.8 834,572 L834,578.7 Q830,581 822,581.7 L809.4,582 Z" fill="#111112"/>
<path d="M811.5,572.1 L820.8,572.1 Q824.3,572.1 824.3,575.55 Q824.3,579 820.8,579 L811.5,579 Z" fill="url(#hdIns)"/>
<path d="M824.6,570.6 Q827.6,575.4 824.6,580.4" stroke="#4a4a4c" stroke-width="1.6" fill="none"/>
<g transform="translate(1785.6 0) scale(-1 1)"><rect x="803.1" y="570.2" width="7" height="9.9" fill="url(#hdTip)"/>
<rect x="805.4" y="572.9" width="1.3" height="1.3" fill="#8c8c8c"/>
<rect x="805.4" y="576.2" width="1.3" height="1.3" fill="#8c8c8c"/>
<path d="M809.4,568.6 L822,568.9 Q830,569.8 834,572 L834,578.7 Q830,581 822,581.7 L809.4,582 Z" fill="#111112"/>
<path d="M811.5,572.1 L820.8,572.1 Q824.3,572.1 824.3,575.55 Q824.3,579 820.8,579 L811.5,579 Z" fill="url(#hdIns)"/>
<path d="M824.6,570.6 Q827.6,575.4 824.6,580.4" stroke="#4a4a4c" stroke-width="1.6" fill="none"/></g></g>
<g><polygon points="345.5,257.5 419.7,174.7 417.8,205.6 345.5,290.7" fill="url(#bxSide)"/>
<polygon points="267,229 345.5,257.5 345.5,290.7 268.4,260.3" fill="url(#bxFront)"/>
<polygon points="267,229 346.4,149.6 419.7,174.7 345.5,257.5" fill="url(#bxTopT)"/>
<line x1="267.9" y1="228.1" x2="345.5" y2="256.2" stroke="#626264" stroke-width="0.8" opacity="0.55"/>
<line x1="345.5" y1="256.2" x2="418.7" y2="174.9" stroke="#626264" stroke-width="0.8" opacity="0.55"/>
<line x1="267" y1="229" x2="345.5" y2="257.5" stroke="#0e0e0f" stroke-width="1.1"/>
<line x1="345.5" y1="257.5" x2="419.7" y2="174.7" stroke="#101011" stroke-width="1.1"/>
<line x1="345.5" y1="257.5" x2="345.5" y2="290.7" stroke="#0a0a0b" stroke-width="1"/>
<line x1="267" y1="229" x2="346.4" y2="149.6" stroke="#4a4b4e" stroke-width="0.7" opacity="0.7"/>
<line x1="346.4" y1="149.6" x2="419.7" y2="174.7" stroke="#4a4b4e" stroke-width="0.7" opacity="0.7"/>
<text transform="matrix(0.74 -0.67 0.88 0.47 292.8 217.5)" font-size="8.4" font-weight="bold" fill="#c8cee2" textLength="27.61" lengthAdjust="spacingAndGlyphs" stroke="#c8cee2" stroke-width="0.22">HDMI</text>
<text transform="matrix(0.76 -0.65 0.88 0.47 314.9 195.4)" font-size="7.8" font-weight="normal" fill="#b8bfd4" textLength="23.05" lengthAdjust="spacingAndGlyphs" stroke="#b8bfd4" stroke-width="0.22">Extender</text>
<text transform="matrix(0.71 -0.71 0.89 0.45 336.1 175.5)" font-size="7.3" font-weight="normal" fill="#b8bfd4" textLength="9.05" lengthAdjust="spacingAndGlyphs" stroke="#b8bfd4" stroke-width="0.22">TX</text>
<text transform="matrix(0.69 -0.73 0.89 0.45 352.5 234.9)" font-size="7.6" font-weight="normal" fill="#b8bfd4" textLength="79.73" lengthAdjust="spacingAndGlyphs" stroke="#b8bfd4" stroke-width="0.22">Cat5e/6-568B Full-HD-1080p 3D</text>
<ellipse cx="283.5" cy="252.6" rx="3.4" ry="3.3" fill="#2c2c2e"/>
<ellipse cx="283.8" cy="252.8" rx="2.5" ry="2.5" fill="#060607"/>
<text transform="matrix(0.94 0.34 0.05 1 276 262.4)" font-size="7.6" font-weight="bold" fill="#525d82" textLength="16.16" lengthAdjust="spacingAndGlyphs" opacity="0.92">EDID</text>
<text transform="matrix(0.94 0.34 0.05 1 300.7 273.5)" font-size="7.6" font-weight="bold" fill="#525d82" textLength="23.19" lengthAdjust="spacingAndGlyphs" opacity="0.92">CAT5/6</text>
<polygon points="297,246 323.5,257 323.5,274.2 297.2,265" fill="url(#rjFrame)"/>
<polygon points="299,248.52 321.51,257.74 321.52,269 314.8,266.54 314.82,269.92 304.29,266.19 304.27,263.97 299.14,262.11" fill="#050506"/>
<line x1="297.2" y1="265" x2="323.5" y2="274.2" stroke="#8a8a8a" stroke-width="0.6"/>
<line x1="399.4" y1="206" x2="397.3" y2="219.4" stroke="#060606" stroke-width="2.6" stroke-linecap="round"/>
<line x1="403.5" y1="202" x2="401.6" y2="215.2" stroke="#060606" stroke-width="2.6" stroke-linecap="round"/>
<line x1="368" y1="240.6" x2="365.2" y2="256.8" stroke="#060606" stroke-width="2.6" stroke-linecap="round"/>
<line x1="372" y1="237.4" x2="369.8" y2="251.7" stroke="#060606" stroke-width="2.6" stroke-linecap="round"/>
<circle cx="391.3" cy="222.1" r="1.7" fill="#050505"/>
<circle cx="377.1" cy="238.2" r="1.7" fill="#050505"/>
<ellipse cx="414" cy="195.8" rx="2.4" ry="2.8" fill="#0c0c0d"/>
<ellipse cx="414" cy="195.8" rx="1.5" ry="1.8" fill="#343436"/>
<ellipse cx="414" cy="195.8" rx="0.8" ry="0.9" fill="#0c0c0d"/>
<ellipse cx="351" cy="268.5" rx="2.4" ry="2.8" fill="#0c0c0d"/>
<ellipse cx="351" cy="268.5" rx="1.5" ry="1.8" fill="#343436"/>
<ellipse cx="351" cy="268.5" rx="0.8" ry="0.9" fill="#0c0c0d"/></g>
<g transform="translate(-21.5 565)"><polygon points="345.5,257.5 419.7,174.7 417.8,205.6 345.5,290.7" fill="url(#bxSide)"/>
<polygon points="267,229 345.5,257.5 345.5,290.7 268.4,260.3" fill="url(#bxFront)"/>
<polygon points="267,229 346.4,149.6 419.7,174.7 345.5,257.5" fill="url(#bxTopT)"/>
<line x1="267.9" y1="228.1" x2="345.5" y2="256.2" stroke="#626264" stroke-width="0.8" opacity="0.55"/>
<line x1="345.5" y1="256.2" x2="418.7" y2="174.9" stroke="#626264" stroke-width="0.8" opacity="0.55"/>
<line x1="267" y1="229" x2="345.5" y2="257.5" stroke="#0e0e0f" stroke-width="1.1"/>
<line x1="345.5" y1="257.5" x2="419.7" y2="174.7" stroke="#101011" stroke-width="1.1"/>
<line x1="345.5" y1="257.5" x2="345.5" y2="290.7" stroke="#0a0a0b" stroke-width="1"/>
<line x1="267" y1="229" x2="346.4" y2="149.6" stroke="#4a4b4e" stroke-width="0.7" opacity="0.7"/>
<line x1="346.4" y1="149.6" x2="419.7" y2="174.7" stroke="#4a4b4e" stroke-width="0.7" opacity="0.7"/>
<text transform="matrix(0.74 -0.67 0.88 0.47 292.8 217.5)" font-size="8.4" font-weight="bold" fill="#c8cee2" textLength="27.61" lengthAdjust="spacingAndGlyphs" stroke="#c8cee2" stroke-width="0.22">HDMI</text>
<text transform="matrix(0.76 -0.65 0.88 0.47 314.9 195.4)" font-size="7.8" font-weight="normal" fill="#b8bfd4" textLength="23.05" lengthAdjust="spacingAndGlyphs" stroke="#b8bfd4" stroke-width="0.22">Extender</text>
<text transform="matrix(0.71 -0.71 0.89 0.45 336.1 175.5)" font-size="7.3" font-weight="normal" fill="#b8bfd4" textLength="9.05" lengthAdjust="spacingAndGlyphs" stroke="#b8bfd4" stroke-width="0.22">TX</text>
<text transform="matrix(0.69 -0.73 0.89 0.45 352.5 234.9)" font-size="7.6" font-weight="normal" fill="#b8bfd4" textLength="79.73" lengthAdjust="spacingAndGlyphs" stroke="#b8bfd4" stroke-width="0.22">Cat5e/6-568B Full-HD-1080p 3D</text>
<ellipse cx="283.5" cy="252.6" rx="3.4" ry="3.3" fill="#2c2c2e"/>
<ellipse cx="283.8" cy="252.8" rx="2.5" ry="2.5" fill="#060607"/>
<text transform="matrix(0.94 0.34 0.05 1 276 262.4)" font-size="7.6" font-weight="bold" fill="#525d82" textLength="16.16" lengthAdjust="spacingAndGlyphs" opacity="0.92">EDID</text>
<text transform="matrix(0.94 0.34 0.05 1 300.7 273.5)" font-size="7.6" font-weight="bold" fill="#525d82" textLength="23.19" lengthAdjust="spacingAndGlyphs" opacity="0.92">CAT5/6</text>
<polygon points="297,246 323.5,257 323.5,274.2 297.2,265" fill="url(#rjFrame)"/>
<polygon points="299,248.52 321.51,257.74 321.52,269 314.8,266.54 314.82,269.92 304.29,266.19 304.27,263.97 299.14,262.11" fill="#050506"/>
<line x1="297.2" y1="265" x2="323.5" y2="274.2" stroke="#8a8a8a" stroke-width="0.6"/>
<line x1="399.4" y1="206" x2="397.3" y2="219.4" stroke="#060606" stroke-width="2.6" stroke-linecap="round"/>
<line x1="403.5" y1="202" x2="401.6" y2="215.2" stroke="#060606" stroke-width="2.6" stroke-linecap="round"/>
<line x1="368" y1="240.6" x2="365.2" y2="256.8" stroke="#060606" stroke-width="2.6" stroke-linecap="round"/>
<line x1="372" y1="237.4" x2="369.8" y2="251.7" stroke="#060606" stroke-width="2.6" stroke-linecap="round"/>
<circle cx="391.3" cy="222.1" r="1.7" fill="#050505"/>
<circle cx="377.1" cy="238.2" r="1.7" fill="#050505"/>
<ellipse cx="414" cy="195.8" rx="2.4" ry="2.8" fill="#0c0c0d"/>
<ellipse cx="414" cy="195.8" rx="1.5" ry="1.8" fill="#343436"/>
<ellipse cx="414" cy="195.8" rx="0.8" ry="0.9" fill="#0c0c0d"/>
<ellipse cx="351" cy="268.5" rx="2.4" ry="2.8" fill="#0c0c0d"/>
<ellipse cx="351" cy="268.5" rx="1.5" ry="1.8" fill="#343436"/>
<ellipse cx="351" cy="268.5" rx="0.8" ry="0.9" fill="#0c0c0d"/></g>
<g><polygon points="778,267 861,184 860,216.3 777.8,301" fill="url(#bxSide)"/>
<polygon points="703,234.5 778,267 777.8,301 704.2,266" fill="url(#bxFront)"/>
<polygon points="703,234.5 791,156.8 861,184 778,267" fill="url(#bxTopR)"/>
<line x1="703.9" y1="233.6" x2="778" y2="265.7" stroke="#626264" stroke-width="0.8" opacity="0.55"/>
<line x1="778" y1="265.7" x2="860" y2="184.2" stroke="#626264" stroke-width="0.8" opacity="0.55"/>
<line x1="703" y1="234.5" x2="778" y2="267" stroke="#0e0e0f" stroke-width="1.1"/>
<line x1="778" y1="267" x2="861" y2="184" stroke="#101011" stroke-width="1.1"/>
<line x1="778" y1="267" x2="777.8" y2="301" stroke="#0a0a0b" stroke-width="1"/>
<line x1="703" y1="234.5" x2="791" y2="156.8" stroke="#4a4b4e" stroke-width="0.7" opacity="0.7"/>
<line x1="791" y1="156.8" x2="861" y2="184" stroke="#4a4b4e" stroke-width="0.7" opacity="0.7"/>
<text transform="matrix(0.8 -0.6 0.85 0.53 731.8 223.6)" font-size="8.4" font-weight="bold" fill="#c8cee2" textLength="25.72" lengthAdjust="spacingAndGlyphs" stroke="#c8cee2" stroke-width="0.22">HDMI</text>
<text transform="matrix(0.8 -0.6 0.85 0.53 755.9 202.6)" font-size="7.8" font-weight="normal" fill="#b8bfd4" textLength="21.72" lengthAdjust="spacingAndGlyphs" stroke="#b8bfd4" stroke-width="0.22">Extender</text>
<text transform="matrix(0.75 -0.66 0.86 0.51 779.1 183.2)" font-size="7.3" font-weight="normal" fill="#b8bfd4" textLength="8.5" lengthAdjust="spacingAndGlyphs" stroke="#b8bfd4" stroke-width="0.22">RX</text>
<text transform="matrix(0.73 -0.69 0.87 0.5 789.1 245.5)" font-size="7.6" font-weight="normal" fill="#b8bfd4" textLength="84.46" lengthAdjust="spacingAndGlyphs" stroke="#b8bfd4" stroke-width="0.22">Cat5e/6-568B Full-HD-1080p 3D</text>
<ellipse cx="716.5" cy="257" rx="3.4" ry="3.3" fill="#2c2c2e"/>
<ellipse cx="716.8" cy="257.2" rx="2.5" ry="2.5" fill="#060607"/>
<text transform="matrix(0.92 0.4 0.05 1 712.3 266.9)" font-size="7.6" font-weight="bold" fill="#525d82" textLength="12.63" lengthAdjust="spacingAndGlyphs" opacity="0.92">RST</text>
<text transform="matrix(0.92 0.39 0.05 1 729.4 278.3)" font-size="7.6" font-weight="bold" fill="#525d82" textLength="23.29" lengthAdjust="spacingAndGlyphs" opacity="0.92">CAT5/6</text>
<polygon points="726,251 751.5,262.5 751.5,280 727,269" fill="url(#rjFrame)"/>
<polygon points="728,253.48 749.59,263.22 749.64,274.62 743.33,271.78 743.39,275.13 733.56,270.72 733.48,268.58 728.66,266.41" fill="#050506"/>
<line x1="727" y1="269" x2="751.5" y2="280" stroke="#8a8a8a" stroke-width="0.6"/>
<line x1="838.5" y1="216" x2="836.6" y2="230.4" stroke="#060606" stroke-width="2.6" stroke-linecap="round"/>
<line x1="842.7" y1="212" x2="840.7" y2="225.2" stroke="#060606" stroke-width="2.6" stroke-linecap="round"/>
<line x1="803" y1="251.6" x2="800.7" y2="266.8" stroke="#060606" stroke-width="2.6" stroke-linecap="round"/>
<line x1="807.7" y1="248.4" x2="805.4" y2="262.6" stroke="#060606" stroke-width="2.6" stroke-linecap="round"/>
<circle cx="829.2" cy="233.1" r="1.7" fill="#050505"/>
<circle cx="813.8" cy="248.8" r="1.7" fill="#050505"/>
<ellipse cx="855.2" cy="205" rx="2.4" ry="2.8" fill="#0c0c0d"/>
<ellipse cx="855.2" cy="205" rx="1.5" ry="1.8" fill="#343436"/>
<ellipse cx="855.2" cy="205" rx="0.8" ry="0.9" fill="#0c0c0d"/>
<ellipse cx="786" cy="278.3" rx="2.4" ry="2.8" fill="#0c0c0d"/>
<ellipse cx="786" cy="278.3" rx="1.5" ry="1.8" fill="#343436"/>
<ellipse cx="786" cy="278.3" rx="0.8" ry="0.9" fill="#0c0c0d"/></g>
<g transform="translate(-40.7 328)"><polygon points="778,267 861,184 860,216.3 777.8,301" fill="url(#bxSide)"/>
<polygon points="703,234.5 778,267 777.8,301 704.2,266" fill="url(#bxFront)"/>
<polygon points="703,234.5 791,156.8 861,184 778,267" fill="url(#bxTopR)"/>
<line x1="703.9" y1="233.6" x2="778" y2="265.7" stroke="#626264" stroke-width="0.8" opacity="0.55"/>
<line x1="778" y1="265.7" x2="860" y2="184.2" stroke="#626264" stroke-width="0.8" opacity="0.55"/>
<line x1="703" y1="234.5" x2="778" y2="267" stroke="#0e0e0f" stroke-width="1.1"/>
<line x1="778" y1="267" x2="861" y2="184" stroke="#101011" stroke-width="1.1"/>
<line x1="778" y1="267" x2="777.8" y2="301" stroke="#0a0a0b" stroke-width="1"/>
<line x1="703" y1="234.5" x2="791" y2="156.8" stroke="#4a4b4e" stroke-width="0.7" opacity="0.7"/>
<line x1="791" y1="156.8" x2="861" y2="184" stroke="#4a4b4e" stroke-width="0.7" opacity="0.7"/>
<text transform="matrix(0.8 -0.6 0.85 0.53 731.8 223.6)" font-size="8.4" font-weight="bold" fill="#c8cee2" textLength="25.72" lengthAdjust="spacingAndGlyphs" stroke="#c8cee2" stroke-width="0.22">HDMI</text>
<text transform="matrix(0.8 -0.6 0.85 0.53 755.9 202.6)" font-size="7.8" font-weight="normal" fill="#b8bfd4" textLength="21.72" lengthAdjust="spacingAndGlyphs" stroke="#b8bfd4" stroke-width="0.22">Extender</text>
<text transform="matrix(0.75 -0.66 0.86 0.51 779.1 183.2)" font-size="7.3" font-weight="normal" fill="#b8bfd4" textLength="8.5" lengthAdjust="spacingAndGlyphs" stroke="#b8bfd4" stroke-width="0.22">RX</text>
<text transform="matrix(0.73 -0.69 0.87 0.5 789.1 245.5)" font-size="7.6" font-weight="normal" fill="#b8bfd4" textLength="84.46" lengthAdjust="spacingAndGlyphs" stroke="#b8bfd4" stroke-width="0.22">Cat5e/6-568B Full-HD-1080p 3D</text>
<ellipse cx="716.5" cy="257" rx="3.4" ry="3.3" fill="#2c2c2e"/>
<ellipse cx="716.8" cy="257.2" rx="2.5" ry="2.5" fill="#060607"/>
<text transform="matrix(0.92 0.4 0.05 1 712.3 266.9)" font-size="7.6" font-weight="bold" fill="#525d82" textLength="12.63" lengthAdjust="spacingAndGlyphs" opacity="0.92">RST</text>
<text transform="matrix(0.92 0.39 0.05 1 729.4 278.3)" font-size="7.6" font-weight="bold" fill="#525d82" textLength="23.29" lengthAdjust="spacingAndGlyphs" opacity="0.92">CAT5/6</text>
<polygon points="726,251 751.5,262.5 751.5,280 727,269" fill="url(#rjFrame)"/>
<polygon points="728,253.48 749.59,263.22 749.64,274.62 743.33,271.78 743.39,275.13 733.56,270.72 733.48,268.58 728.66,266.41" fill="#050506"/>
<line x1="727" y1="269" x2="751.5" y2="280" stroke="#8a8a8a" stroke-width="0.6"/>
<line x1="838.5" y1="216" x2="836.6" y2="230.4" stroke="#060606" stroke-width="2.6" stroke-linecap="round"/>
<line x1="842.7" y1="212" x2="840.7" y2="225.2" stroke="#060606" stroke-width="2.6" stroke-linecap="round"/>
<line x1="803" y1="251.6" x2="800.7" y2="266.8" stroke="#060606" stroke-width="2.6" stroke-linecap="round"/>
<line x1="807.7" y1="248.4" x2="805.4" y2="262.6" stroke="#060606" stroke-width="2.6" stroke-linecap="round"/>
<circle cx="829.2" cy="233.1" r="1.7" fill="#050505"/>
<circle cx="813.8" cy="248.8" r="1.7" fill="#050505"/>
<ellipse cx="855.2" cy="205" rx="2.4" ry="2.8" fill="#0c0c0d"/>
<ellipse cx="855.2" cy="205" rx="1.5" ry="1.8" fill="#343436"/>
<ellipse cx="855.2" cy="205" rx="0.8" ry="0.9" fill="#0c0c0d"/>
<ellipse cx="786" cy="278.3" rx="2.4" ry="2.8" fill="#0c0c0d"/>
<ellipse cx="786" cy="278.3" rx="1.5" ry="1.8" fill="#343436"/>
<ellipse cx="786" cy="278.3" rx="0.8" ry="0.9" fill="#0c0c0d"/></g>
<g transform="translate(-40 569)"><polygon points="778,267 861,184 860,216.3 777.8,301" fill="url(#bxSide)"/>
<polygon points="703,234.5 778,267 777.8,301 704.2,266" fill="url(#bxFront)"/>
<polygon points="703,234.5 791,156.8 861,184 778,267" fill="url(#bxTopR)"/>
<line x1="703.9" y1="233.6" x2="778" y2="265.7" stroke="#626264" stroke-width="0.8" opacity="0.55"/>
<line x1="778" y1="265.7" x2="860" y2="184.2" stroke="#626264" stroke-width="0.8" opacity="0.55"/>
<line x1="703" y1="234.5" x2="778" y2="267" stroke="#0e0e0f" stroke-width="1.1"/>
<line x1="778" y1="267" x2="861" y2="184" stroke="#101011" stroke-width="1.1"/>
<line x1="778" y1="267" x2="777.8" y2="301" stroke="#0a0a0b" stroke-width="1"/>
<line x1="703" y1="234.5" x2="791" y2="156.8" stroke="#4a4b4e" stroke-width="0.7" opacity="0.7"/>
<line x1="791" y1="156.8" x2="861" y2="184" stroke="#4a4b4e" stroke-width="0.7" opacity="0.7"/>
<text transform="matrix(0.8 -0.6 0.85 0.53 731.8 223.6)" font-size="8.4" font-weight="bold" fill="#c8cee2" textLength="25.72" lengthAdjust="spacingAndGlyphs" stroke="#c8cee2" stroke-width="0.22">HDMI</text>
<text transform="matrix(0.8 -0.6 0.85 0.53 755.9 202.6)" font-size="7.8" font-weight="normal" fill="#b8bfd4" textLength="21.72" lengthAdjust="spacingAndGlyphs" stroke="#b8bfd4" stroke-width="0.22">Extender</text>
<text transform="matrix(0.75 -0.66 0.86 0.51 779.1 183.2)" font-size="7.3" font-weight="normal" fill="#b8bfd4" textLength="8.5" lengthAdjust="spacingAndGlyphs" stroke="#b8bfd4" stroke-width="0.22">RX</text>
<text transform="matrix(0.73 -0.69 0.87 0.5 789.1 245.5)" font-size="7.6" font-weight="normal" fill="#b8bfd4" textLength="84.46" lengthAdjust="spacingAndGlyphs" stroke="#b8bfd4" stroke-width="0.22">Cat5e/6-568B Full-HD-1080p 3D</text>
<ellipse cx="716.5" cy="257" rx="3.4" ry="3.3" fill="#2c2c2e"/>
<ellipse cx="716.8" cy="257.2" rx="2.5" ry="2.5" fill="#060607"/>
<text transform="matrix(0.92 0.4 0.05 1 712.3 266.9)" font-size="7.6" font-weight="bold" fill="#525d82" textLength="12.63" lengthAdjust="spacingAndGlyphs" opacity="0.92">RST</text>
<text transform="matrix(0.92 0.39 0.05 1 729.4 278.3)" font-size="7.6" font-weight="bold" fill="#525d82" textLength="23.29" lengthAdjust="spacingAndGlyphs" opacity="0.92">CAT5/6</text>
<polygon points="726,251 751.5,262.5 751.5,280 727,269" fill="url(#rjFrame)"/>
<polygon points="728,253.48 749.59,263.22 749.64,274.62 743.33,271.78 743.39,275.13 733.56,270.72 733.48,268.58 728.66,266.41" fill="#050506"/>
<line x1="727" y1="269" x2="751.5" y2="280" stroke="#8a8a8a" stroke-width="0.6"/>
<line x1="838.5" y1="216" x2="836.6" y2="230.4" stroke="#060606" stroke-width="2.6" stroke-linecap="round"/>
<line x1="842.7" y1="212" x2="840.7" y2="225.2" stroke="#060606" stroke-width="2.6" stroke-linecap="round"/>
<line x1="803" y1="251.6" x2="800.7" y2="266.8" stroke="#060606" stroke-width="2.6" stroke-linecap="round"/>
<line x1="807.7" y1="248.4" x2="805.4" y2="262.6" stroke="#060606" stroke-width="2.6" stroke-linecap="round"/>
<circle cx="829.2" cy="233.1" r="1.7" fill="#050505"/>
<circle cx="813.8" cy="248.8" r="1.7" fill="#050505"/>
<ellipse cx="855.2" cy="205" rx="2.4" ry="2.8" fill="#0c0c0d"/>
<ellipse cx="855.2" cy="205" rx="1.5" ry="1.8" fill="#343436"/>
<ellipse cx="855.2" cy="205" rx="0.8" ry="0.9" fill="#0c0c0d"/>
<ellipse cx="786" cy="278.3" rx="2.4" ry="2.8" fill="#0c0c0d"/>
<ellipse cx="786" cy="278.3" rx="1.5" ry="1.8" fill="#343436"/>
<ellipse cx="786" cy="278.3" rx="0.8" ry="0.9" fill="#0c0c0d"/></g>
<g transform="translate(-41 798)"><polygon points="778,267 861,184 860,216.3 777.8,301" fill="url(#bxSide)"/>
<polygon points="703,234.5 778,267 777.8,301 704.2,266" fill="url(#bxFront)"/>
<polygon points="703,234.5 791,156.8 861,184 778,267" fill="url(#bxTopR)"/>
<line x1="703.9" y1="233.6" x2="778" y2="265.7" stroke="#626264" stroke-width="0.8" opacity="0.55"/>
<line x1="778" y1="265.7" x2="860" y2="184.2" stroke="#626264" stroke-width="0.8" opacity="0.55"/>
<line x1="703" y1="234.5" x2="778" y2="267" stroke="#0e0e0f" stroke-width="1.1"/>
<line x1="778" y1="267" x2="861" y2="184" stroke="#101011" stroke-width="1.1"/>
<line x1="778" y1="267" x2="777.8" y2="301" stroke="#0a0a0b" stroke-width="1"/>
<line x1="703" y1="234.5" x2="791" y2="156.8" stroke="#4a4b4e" stroke-width="0.7" opacity="0.7"/>
<line x1="791" y1="156.8" x2="861" y2="184" stroke="#4a4b4e" stroke-width="0.7" opacity="0.7"/>
<text transform="matrix(0.8 -0.6 0.85 0.53 731.8 223.6)" font-size="8.4" font-weight="bold" fill="#c8cee2" textLength="25.72" lengthAdjust="spacingAndGlyphs" stroke="#c8cee2" stroke-width="0.22">HDMI</text>
<text transform="matrix(0.8 -0.6 0.85 0.53 755.9 202.6)" font-size="7.8" font-weight="normal" fill="#b8bfd4" textLength="21.72" lengthAdjust="spacingAndGlyphs" stroke="#b8bfd4" stroke-width="0.22">Extender</text>
<text transform="matrix(0.75 -0.66 0.86 0.51 779.1 183.2)" font-size="7.3" font-weight="normal" fill="#b8bfd4" textLength="8.5" lengthAdjust="spacingAndGlyphs" stroke="#b8bfd4" stroke-width="0.22">RX</text>
<text transform="matrix(0.73 -0.69 0.87 0.5 789.1 245.5)" font-size="7.6" font-weight="normal" fill="#b8bfd4" textLength="84.46" lengthAdjust="spacingAndGlyphs" stroke="#b8bfd4" stroke-width="0.22">Cat5e/6-568B Full-HD-1080p 3D</text>
<ellipse cx="716.5" cy="257" rx="3.4" ry="3.3" fill="#2c2c2e"/>
<ellipse cx="716.8" cy="257.2" rx="2.5" ry="2.5" fill="#060607"/>
<text transform="matrix(0.92 0.4 0.05 1 712.3 266.9)" font-size="7.6" font-weight="bold" fill="#525d82" textLength="12.63" lengthAdjust="spacingAndGlyphs" opacity="0.92">RST</text>
<text transform="matrix(0.92 0.39 0.05 1 729.4 278.3)" font-size="7.6" font-weight="bold" fill="#525d82" textLength="23.29" lengthAdjust="spacingAndGlyphs" opacity="0.92">CAT5/6</text>
<polygon points="726,251 751.5,262.5 751.5,280 727,269" fill="url(#rjFrame)"/>
<polygon points="728,253.48 749.59,263.22 749.64,274.62 743.33,271.78 743.39,275.13 733.56,270.72 733.48,268.58 728.66,266.41" fill="#050506"/>
<line x1="727" y1="269" x2="751.5" y2="280" stroke="#8a8a8a" stroke-width="0.6"/>
<line x1="838.5" y1="216" x2="836.6" y2="230.4" stroke="#060606" stroke-width="2.6" stroke-linecap="round"/>
<line x1="842.7" y1="212" x2="840.7" y2="225.2" stroke="#060606" stroke-width="2.6" stroke-linecap="round"/>
<line x1="803" y1="251.6" x2="800.7" y2="266.8" stroke="#060606" stroke-width="2.6" stroke-linecap="round"/>
<line x1="807.7" y1="248.4" x2="805.4" y2="262.6" stroke="#060606" stroke-width="2.6" stroke-linecap="round"/>
<circle cx="829.2" cy="233.1" r="1.7" fill="#050505"/>
<circle cx="813.8" cy="248.8" r="1.7" fill="#050505"/>
<ellipse cx="855.2" cy="205" rx="2.4" ry="2.8" fill="#0c0c0d"/>
<ellipse cx="855.2" cy="205" rx="1.5" ry="1.8" fill="#343436"/>
<ellipse cx="855.2" cy="205" rx="0.8" ry="0.9" fill="#0c0c0d"/>
<ellipse cx="786" cy="278.3" rx="2.4" ry="2.8" fill="#0c0c0d"/>
<ellipse cx="786" cy="278.3" rx="1.5" ry="1.8" fill="#343436"/>
<ellipse cx="786" cy="278.3" rx="0.8" ry="0.9" fill="#0c0c0d"/></g>
<text x="187.6" y="208.8" font-size="28.2" font-weight="bold" fill="#000000">HDMI</text>
<text x="868.1" y="208.8" font-size="28.2" font-weight="bold" fill="#000000">HDMI</text>
<text x="148.1" y="773.9" font-size="28.2" font-weight="bold" fill="#000000">HDMI</text>
<text x="424" y="275.9" font-size="23.6" fill="#000000" textLength="211.5" lengthAdjust="spacingAndGlyphs">A maximum of 60 m</text>
<text x="16" y="358.6" font-size="23.6" fill="#4a4a4a" stroke="#e6e8f5" stroke-width="0.55" stroke-linejoin="round" textLength="185.5" lengthAdjust="spacingAndGlyphs">HDMI multimedia</text>
<text x="16.5" y="382.6" font-size="23.6" fill="#4a4a4a" stroke="#e6e8f5" stroke-width="0.55" stroke-linejoin="round" textLength="84" lengthAdjust="spacingAndGlyphs">devices</text>
<text x="958.5" y="358.6" font-size="23.6" fill="#4a4a4a" stroke="#e6e8f5" stroke-width="0.55" stroke-linejoin="round" textLength="146" lengthAdjust="spacingAndGlyphs">HDMI display</text>
<text x="959" y="382.6" font-size="23.6" fill="#4a4a4a" stroke="#e6e8f5" stroke-width="0.55" stroke-linejoin="round" textLength="84" lengthAdjust="spacingAndGlyphs">devices</text>
<text x="40" y="893.5" font-size="23.6" fill="#4a4a4a" stroke="#ffffff" stroke-width="0.55" stroke-linejoin="round" textLength="62" lengthAdjust="spacingAndGlyphs">HDMI</text>
<text x="40.5" y="917.5" font-size="23.6" fill="#4a4a4a" stroke="#ffffff" stroke-width="0.55" stroke-linejoin="round" textLength="117" lengthAdjust="spacingAndGlyphs">multimedia</text>
<text x="40.5" y="941.5" font-size="23.6" fill="#4a4a4a" stroke="#ffffff" stroke-width="0.55" stroke-linejoin="round" textLength="84" lengthAdjust="spacingAndGlyphs">devices</text>
<text x="440" y="836" font-size="23.6" fill="#4a4a4a" stroke="#ffffff" stroke-width="0.55" stroke-linejoin="round" textLength="71.5" lengthAdjust="spacingAndGlyphs">Router</text>
<text x="1002" y="663.5" font-size="23.6" fill="#4a4a4a" stroke="#ffffff" stroke-width="0.55" stroke-linejoin="round" textLength="146" lengthAdjust="spacingAndGlyphs">HDMI display</text>
<text x="1002.5" y="687.2" font-size="23.6" fill="#4a4a4a" stroke="#ffffff" stroke-width="0.55" stroke-linejoin="round" textLength="84" lengthAdjust="spacingAndGlyphs">devices</text>
<text x="1002.5" y="903.3" font-size="23.6" fill="#4a4a4a" stroke="#ffffff" stroke-width="0.55" stroke-linejoin="round" textLength="146" lengthAdjust="spacingAndGlyphs">HDMI display</text>
<text x="1003" y="926.8" font-size="23.6" fill="#4a4a4a" stroke="#ffffff" stroke-width="0.55" stroke-linejoin="round" textLength="84" lengthAdjust="spacingAndGlyphs">devices</text>
<text x="1014.5" y="1138.1" font-size="23.6" fill="#4a4a4a" stroke="#ffffff" stroke-width="0.55" stroke-linejoin="round" textLength="146" lengthAdjust="spacingAndGlyphs">HDMI display</text>
<text x="1015" y="1161.5" font-size="23.6" fill="#4a4a4a" stroke="#ffffff" stroke-width="0.55" stroke-linejoin="round" textLength="84" lengthAdjust="spacingAndGlyphs">devices</text>
</svg>
</body>
</html>
